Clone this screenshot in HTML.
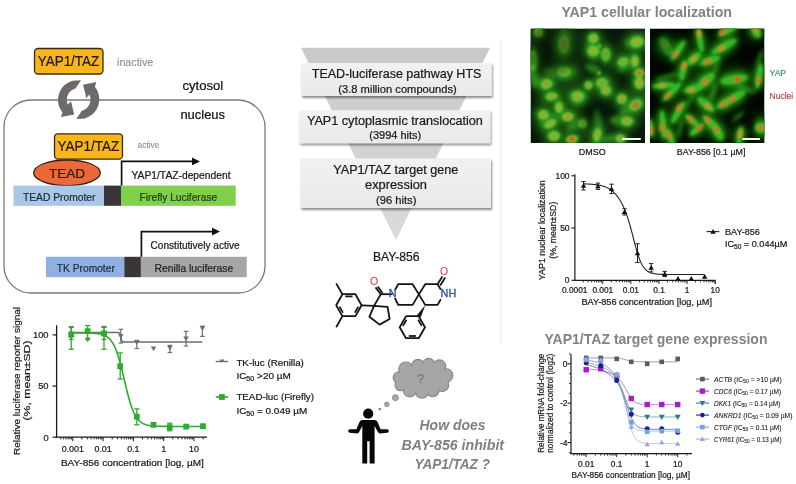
<!DOCTYPE html>
<html><head><meta charset="utf-8"><style>
html,body{margin:0;padding:0;background:#fff;}
body{width:796px;height:484px;overflow:hidden;}
svg{display:block;font-family:"Liberation Sans",sans-serif;filter:blur(0.3px);}
</style></head><body>
<svg width="796" height="484" viewBox="0 0 796 484">
<rect width="796" height="484" fill="#fff"/>
<rect x="4" y="100" width="261" height="193" rx="27" ry="27" fill="none" stroke="#7a7a7a" stroke-width="1.3"/>
<rect x="34.5" y="48.5" width="68.5" height="25.5" rx="3.5" fill="#f8b51c" stroke="#3b2a12" stroke-width="1.3"/>
<text x="68.5" y="66.2" font-size="13.8" text-anchor="middle" fill="#24180a" font-weight="normal" font-style="normal" textLength="61.6" lengthAdjust="spacingAndGlyphs" stroke="#24180a" stroke-width="0.22" >YAP1/TAZ</text>
<text x="117" y="65.5" font-size="10.7" text-anchor="start" fill="#8a8a8a" font-weight="normal" font-style="normal" textLength="36.3" lengthAdjust="spacingAndGlyphs" stroke="#8a8a8a" stroke-width="0.1" >inactive</text>
<text x="182.4" y="89.6" font-size="13" text-anchor="start" fill="#111" font-weight="normal" font-style="normal" textLength="40.8" lengthAdjust="spacingAndGlyphs" stroke="#111" stroke-width="0.22" >cytosol</text>
<text x="180.4" y="118.8" font-size="13" text-anchor="start" fill="#111" font-weight="normal" font-style="normal" textLength="44.6" lengthAdjust="spacingAndGlyphs" stroke="#111" stroke-width="0.22" >nucleus</text>
<path d="M72.4,80.7 L81,80.3 L75.5,88.5 A11.7,11.7 0 0 0 67.8,104.6 L71,101.2 L74.2,114.4 L61,117.1 L62.4,112.5 A20,20 0 0 1 72.4,80.7 Z" fill="#6e6a6b"/>
<path d="M72.4,80.7 L81,80.3 L75.5,88.5 A11.7,11.7 0 0 0 67.8,104.6 L71,101.2 L74.2,114.4 L61,117.1 L62.4,112.5 A20,20 0 0 1 72.4,80.7 Z" fill="#6e6a6b" transform="rotate(180 78.65 99.6)"/>
<rect x="54.5" y="133.8" width="68" height="25.3" rx="3.5" fill="#f8b51c" stroke="#3b2a12" stroke-width="1.3"/>
<text x="88.4" y="151.4" font-size="13.8" text-anchor="middle" fill="#24180a" font-weight="normal" font-style="normal" textLength="61.6" lengthAdjust="spacingAndGlyphs" stroke="#24180a" stroke-width="0.22" >YAP1/TAZ</text>
<text x="137.6" y="148.1" font-size="9" text-anchor="start" fill="#8a8a8a" font-weight="normal" font-style="normal" textLength="21.8" lengthAdjust="spacingAndGlyphs" stroke="#8a8a8a" stroke-width="0.1" >active</text>
<ellipse cx="67" cy="172.8" rx="33.3" ry="12.8" fill="#e9693a" stroke="#3b1e12" stroke-width="1.3"/>
<text x="67" y="177.8" font-size="13.5" text-anchor="middle" fill="#3a1408" font-weight="normal" font-style="normal" textLength="36" lengthAdjust="spacingAndGlyphs" stroke="#3a1408" stroke-width="0.22" >TEAD</text>
<rect x="13.5" y="185.6" width="90.5" height="20.2" fill="#a9c8e8"/>
<rect x="104" y="185.6" width="17.4" height="20.2" fill="#3a3638"/>
<rect x="121.4" y="185.6" width="114.3" height="20.2" fill="#7fd04a"/>
<text x="23.0" y="200.7" font-size="10.6" text-anchor="start" fill="#1c2a3c" font-weight="normal" font-style="normal" textLength="72.4" lengthAdjust="spacingAndGlyphs" stroke="#1c2a3c" stroke-width="0.22" >TEAD Promoter</text>
<text x="139.6" y="200.7" font-size="10.6" text-anchor="start" fill="#1e3a10" font-weight="normal" font-style="normal" textLength="77.6" lengthAdjust="spacingAndGlyphs" stroke="#1e3a10" stroke-width="0.22" >Firefly Luciferase</text>
<path d="M121.6,185.6 V161.4 H193" fill="none" stroke="#111" stroke-width="1.7"/>
<polygon points="192,157.6 200,161.4 192,165.2" fill="#111"/>
<text x="131.5" y="178.9" font-size="10.1" text-anchor="start" fill="#1a1a1a" font-weight="normal" font-style="normal" textLength="99" lengthAdjust="spacingAndGlyphs" stroke="#1a1a1a" stroke-width="0.22" >YAP1/TAZ-dependent</text>
<rect x="46" y="256.8" width="78.3" height="20.4" fill="#8fb0e0"/>
<rect x="124.3" y="256.8" width="16.6" height="20.4" fill="#3a3638"/>
<rect x="140.9" y="256.8" width="105.8" height="20.4" fill="#a6a6a6"/>
<text x="56.8" y="272.2" font-size="10.6" text-anchor="start" fill="#1c2a3c" font-weight="normal" font-style="normal" textLength="58" lengthAdjust="spacingAndGlyphs" stroke="#1c2a3c" stroke-width="0.22" >TK Promoter</text>
<text x="154.6" y="272.2" font-size="10.6" text-anchor="start" fill="#1e1e1e" font-weight="normal" font-style="normal" textLength="78.6" lengthAdjust="spacingAndGlyphs" stroke="#1e1e1e" stroke-width="0.22" >Renilla luciferase</text>
<path d="M141.4,256.8 V231.6 H213" fill="none" stroke="#111" stroke-width="1.7"/>
<polygon points="212,227.8 220,231.6 212,235.4" fill="#111"/>
<text x="150.6" y="248.6" font-size="10.1" text-anchor="start" fill="#1a1a1a" font-weight="normal" font-style="normal" textLength="89" lengthAdjust="spacingAndGlyphs" stroke="#1a1a1a" stroke-width="0.22" >Constitutively active</text>
<line x1="56.60" y1="325.20" x2="56.60" y2="437.80" stroke="#1a1a1a" stroke-width="1.3"/>
<line x1="56.00" y1="437.20" x2="207.00" y2="437.20" stroke="#1a1a1a" stroke-width="1.3"/>
<line x1="52.60" y1="437.20" x2="56.60" y2="437.20" stroke="#1a1a1a" stroke-width="1.2"/>
<line x1="52.60" y1="386.05" x2="56.60" y2="386.05" stroke="#1a1a1a" stroke-width="1.2"/>
<line x1="52.60" y1="334.90" x2="56.60" y2="334.90" stroke="#1a1a1a" stroke-width="1.2"/>
<line x1="60.74" y1="437.20" x2="60.74" y2="439.40" stroke="#1a1a1a" stroke-width="1"/>
<line x1="63.68" y1="437.20" x2="63.68" y2="439.40" stroke="#1a1a1a" stroke-width="1"/>
<line x1="66.08" y1="437.20" x2="66.08" y2="439.40" stroke="#1a1a1a" stroke-width="1"/>
<line x1="68.11" y1="437.20" x2="68.11" y2="439.40" stroke="#1a1a1a" stroke-width="1"/>
<line x1="69.86" y1="437.20" x2="69.86" y2="439.40" stroke="#1a1a1a" stroke-width="1"/>
<line x1="71.41" y1="437.20" x2="71.41" y2="439.40" stroke="#1a1a1a" stroke-width="1"/>
<line x1="72.80" y1="437.20" x2="72.80" y2="441.20" stroke="#1a1a1a" stroke-width="1"/>
<line x1="81.92" y1="437.20" x2="81.92" y2="439.40" stroke="#1a1a1a" stroke-width="1"/>
<line x1="87.26" y1="437.20" x2="87.26" y2="439.40" stroke="#1a1a1a" stroke-width="1"/>
<line x1="91.04" y1="437.20" x2="91.04" y2="439.40" stroke="#1a1a1a" stroke-width="1"/>
<line x1="93.98" y1="437.20" x2="93.98" y2="439.40" stroke="#1a1a1a" stroke-width="1"/>
<line x1="96.38" y1="437.20" x2="96.38" y2="439.40" stroke="#1a1a1a" stroke-width="1"/>
<line x1="98.41" y1="437.20" x2="98.41" y2="439.40" stroke="#1a1a1a" stroke-width="1"/>
<line x1="100.16" y1="437.20" x2="100.16" y2="439.40" stroke="#1a1a1a" stroke-width="1"/>
<line x1="101.71" y1="437.20" x2="101.71" y2="439.40" stroke="#1a1a1a" stroke-width="1"/>
<line x1="103.10" y1="437.20" x2="103.10" y2="441.20" stroke="#1a1a1a" stroke-width="1"/>
<line x1="112.22" y1="437.20" x2="112.22" y2="439.40" stroke="#1a1a1a" stroke-width="1"/>
<line x1="117.56" y1="437.20" x2="117.56" y2="439.40" stroke="#1a1a1a" stroke-width="1"/>
<line x1="121.34" y1="437.20" x2="121.34" y2="439.40" stroke="#1a1a1a" stroke-width="1"/>
<line x1="124.28" y1="437.20" x2="124.28" y2="439.40" stroke="#1a1a1a" stroke-width="1"/>
<line x1="126.68" y1="437.20" x2="126.68" y2="439.40" stroke="#1a1a1a" stroke-width="1"/>
<line x1="128.71" y1="437.20" x2="128.71" y2="439.40" stroke="#1a1a1a" stroke-width="1"/>
<line x1="130.46" y1="437.20" x2="130.46" y2="439.40" stroke="#1a1a1a" stroke-width="1"/>
<line x1="132.01" y1="437.20" x2="132.01" y2="439.40" stroke="#1a1a1a" stroke-width="1"/>
<line x1="133.40" y1="437.20" x2="133.40" y2="441.20" stroke="#1a1a1a" stroke-width="1"/>
<line x1="142.52" y1="437.20" x2="142.52" y2="439.40" stroke="#1a1a1a" stroke-width="1"/>
<line x1="147.86" y1="437.20" x2="147.86" y2="439.40" stroke="#1a1a1a" stroke-width="1"/>
<line x1="151.64" y1="437.20" x2="151.64" y2="439.40" stroke="#1a1a1a" stroke-width="1"/>
<line x1="154.58" y1="437.20" x2="154.58" y2="439.40" stroke="#1a1a1a" stroke-width="1"/>
<line x1="156.98" y1="437.20" x2="156.98" y2="439.40" stroke="#1a1a1a" stroke-width="1"/>
<line x1="159.01" y1="437.20" x2="159.01" y2="439.40" stroke="#1a1a1a" stroke-width="1"/>
<line x1="160.76" y1="437.20" x2="160.76" y2="439.40" stroke="#1a1a1a" stroke-width="1"/>
<line x1="162.31" y1="437.20" x2="162.31" y2="439.40" stroke="#1a1a1a" stroke-width="1"/>
<line x1="163.70" y1="437.20" x2="163.70" y2="441.20" stroke="#1a1a1a" stroke-width="1"/>
<line x1="172.82" y1="437.20" x2="172.82" y2="439.40" stroke="#1a1a1a" stroke-width="1"/>
<line x1="178.16" y1="437.20" x2="178.16" y2="439.40" stroke="#1a1a1a" stroke-width="1"/>
<line x1="181.94" y1="437.20" x2="181.94" y2="439.40" stroke="#1a1a1a" stroke-width="1"/>
<line x1="184.88" y1="437.20" x2="184.88" y2="439.40" stroke="#1a1a1a" stroke-width="1"/>
<line x1="187.28" y1="437.20" x2="187.28" y2="439.40" stroke="#1a1a1a" stroke-width="1"/>
<line x1="189.31" y1="437.20" x2="189.31" y2="439.40" stroke="#1a1a1a" stroke-width="1"/>
<line x1="191.06" y1="437.20" x2="191.06" y2="439.40" stroke="#1a1a1a" stroke-width="1"/>
<line x1="192.61" y1="437.20" x2="192.61" y2="439.40" stroke="#1a1a1a" stroke-width="1"/>
<line x1="194.00" y1="437.20" x2="194.00" y2="441.20" stroke="#1a1a1a" stroke-width="1"/>
<line x1="203.12" y1="437.20" x2="203.12" y2="439.40" stroke="#1a1a1a" stroke-width="1"/>
<text x="48.6" y="338.29999999999995" font-size="9.4" text-anchor="end" fill="#1a1a1a" font-weight="normal" font-style="normal" stroke="#1a1a1a" stroke-width="0.22" >100</text>
<text x="48.6" y="389.45" font-size="9.4" text-anchor="end" fill="#1a1a1a" font-weight="normal" font-style="normal" stroke="#1a1a1a" stroke-width="0.22" >50</text>
<text x="48.6" y="440.59999999999997" font-size="9.4" text-anchor="end" fill="#1a1a1a" font-weight="normal" font-style="normal" stroke="#1a1a1a" stroke-width="0.22" >0</text>
<text x="72.8" y="451.8" font-size="8.9" text-anchor="middle" fill="#1a1a1a" font-weight="normal" font-style="normal" stroke="#1a1a1a" stroke-width="0.22" >0.001</text>
<text x="103.1" y="451.8" font-size="8.9" text-anchor="middle" fill="#1a1a1a" font-weight="normal" font-style="normal" stroke="#1a1a1a" stroke-width="0.22" >0.01</text>
<text x="133.4" y="451.8" font-size="8.9" text-anchor="middle" fill="#1a1a1a" font-weight="normal" font-style="normal" stroke="#1a1a1a" stroke-width="0.22" >0.1</text>
<text x="163.7" y="451.8" font-size="8.9" text-anchor="middle" fill="#1a1a1a" font-weight="normal" font-style="normal" stroke="#1a1a1a" stroke-width="0.22" >1</text>
<text x="194.0" y="451.8" font-size="8.9" text-anchor="middle" fill="#1a1a1a" font-weight="normal" font-style="normal" stroke="#1a1a1a" stroke-width="0.22" >10</text>
<text x="132.4" y="466.1" font-size="9.6" text-anchor="middle" fill="#1a1a1a" font-weight="normal" font-style="normal" textLength="143" lengthAdjust="spacingAndGlyphs" stroke="#1a1a1a" stroke-width="0.22" >BAY-856 concentration [log, µM]</text>
<g transform="translate(19.5,381) rotate(-90)">
<text x="0" y="0" font-size="9.6" text-anchor="middle" fill="#1a1a1a" font-weight="normal" font-style="normal" textLength="148" lengthAdjust="spacingAndGlyphs" stroke="#1a1a1a" stroke-width="0.22" >Relative luciferase reporter signal</text>
<text x="0.5" y="10.4" font-size="9.6" text-anchor="middle" fill="#1a1a1a" font-weight="normal" font-style="normal" textLength="80" lengthAdjust="spacingAndGlyphs" stroke="#1a1a1a" stroke-width="0.22" >(%, mean±SD)</text>
</g>
<polyline points="71.28,332.44 71.72,332.44 72.16,332.44 72.60,332.44 73.03,332.44 73.47,332.44 73.91,332.44 74.34,332.44 74.78,332.44 75.22,332.44 75.65,332.44 76.09,332.44 76.53,332.44 76.96,332.44 77.40,332.44 77.84,332.44 78.27,332.44 78.71,332.44 79.15,332.44 79.58,332.44 80.02,332.44 80.46,332.44 80.89,332.44 81.33,332.44 81.77,332.44 82.20,332.44 82.64,332.44 83.08,332.44 83.51,332.44 83.95,332.44 84.39,332.44 84.82,332.44 85.26,332.44 85.70,332.44 86.13,332.44 86.57,332.44 87.01,332.44 87.44,332.44 87.88,332.44 88.32,332.44 88.75,332.44 89.19,332.44 89.63,332.44 90.06,332.44 90.50,332.44 90.94,332.44 91.38,332.44 91.81,332.44 92.25,332.44 92.69,332.44 93.12,332.44 93.56,332.44 94.00,332.44 94.43,332.44 94.87,332.44 95.31,332.44 95.74,332.44 96.18,332.44 96.62,332.44 97.05,332.44 97.49,332.44 97.93,332.44 98.36,332.44 98.80,332.44 99.24,332.44 99.67,332.44 100.11,332.44 100.55,332.44 100.98,332.44 101.42,332.44 101.86,332.44 102.29,332.44 102.73,332.44 103.17,332.44 103.60,332.44 104.04,332.44 104.48,332.44 104.91,332.44 105.35,332.44 105.79,332.44 106.22,332.44 106.66,332.44 107.10,332.44 107.53,332.44 107.97,332.44 108.41,332.44 108.84,332.44 109.28,332.44 109.72,332.44 110.15,332.44 110.59,332.44 111.03,332.44 111.47,332.44 111.90,332.44 112.34,332.44 112.78,332.44 113.21,332.44 113.65,332.44 114.09,332.44 114.52,332.44 114.96,332.44 115.40,332.45 115.83,332.45 116.27,332.45 116.71,332.45 117.14,332.45 117.58,332.46 118.02,332.49 118.45,332.55 118.89,332.68 119.33,332.96 119.76,333.55 120.20,334.64 120.64,336.34 121.07,338.30 121.51,339.96 121.95,341.02 122.38,341.58 122.82,341.84 123.26,341.96 123.69,342.02 124.13,342.04 124.57,342.05 125.00,342.06 125.44,342.06 125.88,342.06 126.31,342.06 126.75,342.06 127.19,342.06 127.62,342.06 128.06,342.06 128.50,342.06 128.93,342.06 129.37,342.06 129.81,342.06 130.24,342.06 130.68,342.06 131.12,342.06 131.56,342.06 131.99,342.06 132.43,342.06 132.87,342.06 133.30,342.06 133.74,342.06 134.18,342.06 134.61,342.06 135.05,342.06 135.49,342.06 135.92,342.06 136.36,342.06 136.80,342.06 137.23,342.06 137.67,342.06 138.11,342.06 138.54,342.06 138.98,342.06 139.42,342.06 139.85,342.06 140.29,342.06 140.73,342.06 141.16,342.06 141.60,342.06 142.04,342.06 142.47,342.06 142.91,342.06 143.35,342.06 143.78,342.06 144.22,342.06 144.66,342.06 145.09,342.06 145.53,342.06 145.97,342.06 146.40,342.06 146.84,342.06 147.28,342.06 147.71,342.06 148.15,342.06 148.59,342.06 149.02,342.06 149.46,342.06 149.90,342.06 150.33,342.06 150.77,342.06 151.21,342.06 151.65,342.06 152.08,342.06 152.52,342.06 152.96,342.06 153.39,342.06 153.83,342.06 154.27,342.06 154.70,342.06 155.14,342.06 155.58,342.06 156.01,342.06 156.45,342.06 156.89,342.06 157.32,342.06 157.76,342.06 158.20,342.06 158.63,342.06 159.07,342.06 159.51,342.06 159.94,342.06 160.38,342.06 160.82,342.06 161.25,342.06 161.69,342.06 162.13,342.06 162.56,342.06 163.00,342.06 163.44,342.06 163.87,342.06 164.31,342.06 164.75,342.06 165.18,342.06 165.62,342.06 166.06,342.06 166.49,342.06 166.93,342.06 167.37,342.06 167.80,342.06 168.24,342.06 168.68,342.06 169.11,342.06 169.55,342.06 169.99,342.06 170.42,342.06 170.86,342.06 171.30,342.06 171.74,342.06 172.17,342.06 172.61,342.06 173.05,342.06 173.48,342.06 173.92,342.06 174.36,342.06 174.79,342.06 175.23,342.06 175.67,342.06 176.10,342.06 176.54,342.06 176.98,342.06 177.41,342.06 177.85,342.06 178.29,342.06 178.72,342.06 179.16,342.06 179.60,342.06 180.03,342.06 180.47,342.06 180.91,342.06 181.34,342.06 181.78,342.06 182.22,342.06 182.65,342.06 183.09,342.06 183.53,342.06 183.96,342.06 184.40,342.06 184.84,342.06 185.27,342.06 185.71,342.06 186.15,342.06 186.58,342.06 187.02,342.06 187.46,342.06 187.89,342.06 188.33,342.06 188.77,342.06 189.20,342.06 189.64,342.06 190.08,342.06 190.52,342.06 190.95,342.06 191.39,342.06 191.83,342.06 192.26,342.06 192.70,342.06 193.14,342.06 193.57,342.06 194.01,342.06 194.45,342.06 194.88,342.06 195.32,342.06 195.76,342.06 196.19,342.06 196.63,342.06 197.07,342.06 197.50,342.06 197.94,342.06 198.38,342.06 198.81,342.06 199.25,342.06 199.69,342.06 200.12,342.06 200.56,342.06 201.00,342.06 201.43,342.06 201.87,342.06 202.31,342.06" fill="none" stroke="#6e6e6e" stroke-width="1.5"/>
<line x1="71.20" y1="327.50" x2="71.20" y2="339.50" stroke="#6e6e6e" stroke-width="1.2"/>
<line x1="68.90" y1="327.50" x2="73.50" y2="327.50" stroke="#6e6e6e" stroke-width="1.2"/>
<line x1="68.90" y1="339.50" x2="73.50" y2="339.50" stroke="#6e6e6e" stroke-width="1.2"/>
<polygon points="68.50,331.40 73.90,331.40 71.20,336.20" fill="#6e6e6e"/>
<polygon points="85.00,337.50 90.40,337.50 87.70,342.30" fill="#6e6e6e"/>
<line x1="104.00" y1="326.40" x2="104.00" y2="339.60" stroke="#6e6e6e" stroke-width="1.2"/>
<line x1="101.70" y1="326.40" x2="106.30" y2="326.40" stroke="#6e6e6e" stroke-width="1.2"/>
<line x1="101.70" y1="339.60" x2="106.30" y2="339.60" stroke="#6e6e6e" stroke-width="1.2"/>
<polygon points="101.30,330.90 106.70,330.90 104.00,335.70" fill="#6e6e6e"/>
<line x1="120.80" y1="329.30" x2="120.80" y2="343.00" stroke="#6e6e6e" stroke-width="1.2"/>
<line x1="118.50" y1="329.30" x2="123.10" y2="329.30" stroke="#6e6e6e" stroke-width="1.2"/>
<line x1="118.50" y1="343.00" x2="123.10" y2="343.00" stroke="#6e6e6e" stroke-width="1.2"/>
<polygon points="118.10,334.00 123.50,334.00 120.80,338.80" fill="#6e6e6e"/>
<line x1="136.80" y1="340.40" x2="136.80" y2="348.50" stroke="#6e6e6e" stroke-width="1.2"/>
<line x1="134.50" y1="340.40" x2="139.10" y2="340.40" stroke="#6e6e6e" stroke-width="1.2"/>
<line x1="134.50" y1="348.50" x2="139.10" y2="348.50" stroke="#6e6e6e" stroke-width="1.2"/>
<polygon points="134.10,340.20 139.50,340.20 136.80,345.00" fill="#6e6e6e"/>
<polygon points="150.80,346.40 156.20,346.40 153.50,351.20" fill="#6e6e6e"/>
<line x1="169.90" y1="345.40" x2="169.90" y2="352.50" stroke="#6e6e6e" stroke-width="1.2"/>
<line x1="167.60" y1="345.40" x2="172.20" y2="345.40" stroke="#6e6e6e" stroke-width="1.2"/>
<line x1="167.60" y1="352.50" x2="172.20" y2="352.50" stroke="#6e6e6e" stroke-width="1.2"/>
<polygon points="167.20,345.80 172.60,345.80 169.90,350.60" fill="#6e6e6e"/>
<line x1="186.00" y1="331.40" x2="186.00" y2="346.00" stroke="#6e6e6e" stroke-width="1.2"/>
<line x1="183.70" y1="331.40" x2="188.30" y2="331.40" stroke="#6e6e6e" stroke-width="1.2"/>
<line x1="183.70" y1="346.00" x2="188.30" y2="346.00" stroke="#6e6e6e" stroke-width="1.2"/>
<polygon points="183.30,336.50 188.70,336.50 186.00,341.30" fill="#6e6e6e"/>
<line x1="202.40" y1="326.20" x2="202.40" y2="336.40" stroke="#6e6e6e" stroke-width="1.2"/>
<line x1="200.10" y1="326.20" x2="204.70" y2="326.20" stroke="#6e6e6e" stroke-width="1.2"/>
<line x1="200.10" y1="336.40" x2="204.70" y2="336.40" stroke="#6e6e6e" stroke-width="1.2"/>
<polygon points="199.70,326.10 205.10,326.10 202.40,330.90" fill="#6e6e6e"/>
<polyline points="70.38,332.96 71.04,332.96 71.70,332.96 72.35,332.96 73.01,332.96 73.67,332.97 74.33,332.97 74.99,332.97 75.65,332.97 76.31,332.97 76.97,332.97 77.63,332.98 78.29,332.98 78.95,332.98 79.61,332.98 80.27,332.99 80.93,332.99 81.59,333.00 82.25,333.00 82.91,333.01 83.57,333.01 84.23,333.02 84.89,333.03 85.55,333.04 86.21,333.05 86.87,333.06 87.53,333.07 88.19,333.09 88.85,333.10 89.51,333.12 90.17,333.14 90.83,333.17 91.48,333.19 92.14,333.22 92.80,333.26 93.46,333.29 94.12,333.34 94.78,333.39 95.44,333.44 96.10,333.50 96.76,333.57 97.42,333.65 98.08,333.74 98.74,333.84 99.40,333.95 100.06,334.07 100.72,334.21 101.38,334.37 102.04,334.55 102.70,334.75 103.36,334.97 104.02,335.22 104.68,335.50 105.34,335.82 106.00,336.17 106.66,336.57 107.32,337.01 107.98,337.50 108.64,338.05 109.30,338.67 109.96,339.35 110.61,340.10 111.27,340.94 111.93,341.86 112.59,342.88 113.25,344.00 113.91,345.22 114.57,346.56 115.23,348.02 115.89,349.60 116.55,351.32 117.21,353.16 117.87,355.13 118.53,357.22 119.19,359.45 119.85,361.79 120.51,364.24 121.17,366.80 121.83,369.43 122.49,372.14 123.15,374.91 123.81,377.70 124.47,380.51 125.13,383.32 125.79,386.10 126.45,388.83 127.11,391.50 127.77,394.09 128.43,396.59 129.09,398.98 129.74,401.26 130.40,403.41 131.06,405.43 131.72,407.33 132.38,409.09 133.04,410.73 133.70,412.24 134.36,413.63 135.02,414.91 135.68,416.07 136.34,417.13 137.00,418.09 137.66,418.97 138.32,419.75 138.98,420.47 139.64,421.11 140.30,421.68 140.96,422.20 141.62,422.66 142.28,423.08 142.94,423.45 143.60,423.78 144.26,424.08 144.92,424.34 145.58,424.57 146.24,424.78 146.90,424.97 147.56,425.14 148.22,425.29 148.87,425.42 149.53,425.53 150.19,425.64 150.85,425.73 151.51,425.81 152.17,425.88 152.83,425.95 153.49,426.01 154.15,426.06 154.81,426.10 155.47,426.14 156.13,426.18 156.79,426.21 157.45,426.24 158.11,426.26 158.77,426.29 159.43,426.31 160.09,426.32 160.75,426.34 161.41,426.35 162.07,426.36 162.73,426.37 163.39,426.38 164.05,426.39 164.71,426.40 165.37,426.41 166.03,426.41 166.69,426.42 167.35,426.42 168.00,426.43 168.66,426.43 169.32,426.43 169.98,426.44 170.64,426.44 171.30,426.44 171.96,426.44 172.62,426.44 173.28,426.45 173.94,426.45 174.60,426.45 175.26,426.45 175.92,426.45 176.58,426.45 177.24,426.45 177.90,426.45 178.56,426.45 179.22,426.45 179.88,426.45 180.54,426.46 181.20,426.46 181.86,426.46 182.52,426.46 183.18,426.46 183.84,426.46 184.50,426.46 185.16,426.46 185.82,426.46 186.48,426.46 187.13,426.46 187.79,426.46 188.45,426.46 189.11,426.46 189.77,426.46 190.43,426.46 191.09,426.46 191.75,426.46 192.41,426.46 193.07,426.46 193.73,426.46 194.39,426.46 195.05,426.46 195.71,426.46 196.37,426.46 197.03,426.46 197.69,426.46 198.35,426.46 199.01,426.46 199.67,426.46 200.33,426.46 200.99,426.46 201.65,426.46 202.31,426.46" fill="none" stroke="#2eaa2e" stroke-width="1.6"/>
<line x1="71.20" y1="326.60" x2="71.20" y2="349.20" stroke="#2eaa2e" stroke-width="1.3"/>
<line x1="68.60" y1="326.60" x2="73.80" y2="326.60" stroke="#2eaa2e" stroke-width="1.3"/>
<line x1="68.60" y1="349.20" x2="73.80" y2="349.20" stroke="#2eaa2e" stroke-width="1.3"/>
<rect x="68.30" y="331.90" width="5.8" height="5.8" fill="#2eaa2e"/>
<line x1="87.70" y1="325.60" x2="87.70" y2="339.50" stroke="#2eaa2e" stroke-width="1.3"/>
<line x1="85.10" y1="325.60" x2="90.30" y2="325.60" stroke="#2eaa2e" stroke-width="1.3"/>
<line x1="85.10" y1="339.50" x2="90.30" y2="339.50" stroke="#2eaa2e" stroke-width="1.3"/>
<rect x="84.80" y="328.30" width="5.8" height="5.8" fill="#2eaa2e"/>
<line x1="104.00" y1="327.40" x2="104.00" y2="349.20" stroke="#2eaa2e" stroke-width="1.3"/>
<line x1="101.40" y1="327.40" x2="106.60" y2="327.40" stroke="#2eaa2e" stroke-width="1.3"/>
<line x1="101.40" y1="349.20" x2="106.60" y2="349.20" stroke="#2eaa2e" stroke-width="1.3"/>
<rect x="101.10" y="330.50" width="5.8" height="5.8" fill="#2eaa2e"/>
<line x1="120.20" y1="352.90" x2="120.20" y2="379.00" stroke="#2eaa2e" stroke-width="1.3"/>
<line x1="117.60" y1="352.90" x2="122.80" y2="352.90" stroke="#2eaa2e" stroke-width="1.3"/>
<line x1="117.60" y1="379.00" x2="122.80" y2="379.00" stroke="#2eaa2e" stroke-width="1.3"/>
<rect x="117.30" y="363.30" width="5.8" height="5.8" fill="#2eaa2e"/>
<line x1="136.80" y1="408.90" x2="136.80" y2="424.80" stroke="#2eaa2e" stroke-width="1.3"/>
<line x1="134.20" y1="408.90" x2="139.40" y2="408.90" stroke="#2eaa2e" stroke-width="1.3"/>
<line x1="134.20" y1="424.80" x2="139.40" y2="424.80" stroke="#2eaa2e" stroke-width="1.3"/>
<rect x="133.90" y="413.80" width="5.8" height="5.8" fill="#2eaa2e"/>
<rect x="150.60" y="421.90" width="5.8" height="5.8" fill="#2eaa2e"/>
<line x1="169.70" y1="423.20" x2="169.70" y2="430.80" stroke="#2eaa2e" stroke-width="1.3"/>
<line x1="167.10" y1="423.20" x2="172.30" y2="423.20" stroke="#2eaa2e" stroke-width="1.3"/>
<line x1="167.10" y1="430.80" x2="172.30" y2="430.80" stroke="#2eaa2e" stroke-width="1.3"/>
<rect x="166.80" y="424.20" width="5.8" height="5.8" fill="#2eaa2e"/>
<rect x="183.30" y="423.70" width="5.8" height="5.8" fill="#2eaa2e"/>
<rect x="200.10" y="423.30" width="5.8" height="5.8" fill="#2eaa2e"/>
<line x1="215.70" y1="361.50" x2="228.10" y2="361.50" stroke="#6e6e6e" stroke-width="1.4"/>
<polygon points="219.3,359.6 224.5,359.6 221.9,362.8" fill="#6e6e6e"/>
<text x="236.4" y="365.6" font-size="9.8" text-anchor="start" fill="#1a1a1a" font-weight="normal" font-style="normal" textLength="67.5" lengthAdjust="spacingAndGlyphs" stroke="#1a1a1a" stroke-width="0.22" >TK-luc (Renilla)</text>
<text x="236.4" y="379" font-size="9.8" text-anchor="start" fill="#1a1a1a" font-weight="normal" font-style="normal" textLength="54.4" lengthAdjust="spacingAndGlyphs" stroke="#1a1a1a" stroke-width="0.22" >IC<tspan font-size="7" dy="2">50</tspan><tspan dy="-2"> &gt;20 µM</tspan></text>
<line x1="215.70" y1="397.00" x2="228.10" y2="397.00" stroke="#2eaa2e" stroke-width="1.6"/>
<rect x="219" y="394.1" width="5.8" height="5.8" fill="#2eaa2e"/>
<text x="236.4" y="400.4" font-size="9.8" text-anchor="start" fill="#1a1a1a" font-weight="normal" font-style="normal" textLength="77.6" lengthAdjust="spacingAndGlyphs" stroke="#1a1a1a" stroke-width="0.22" >TEAD-luc (Firefly)</text>
<text x="236.4" y="413.6" font-size="9.8" text-anchor="start" fill="#1a1a1a" font-weight="normal" font-style="normal" textLength="70.8" lengthAdjust="spacingAndGlyphs" stroke="#1a1a1a" stroke-width="0.22" >IC<tspan font-size="7" dy="2">50</tspan><tspan dy="-2"> = 0.049 µM</tspan></text>
<defs><linearGradient id="fg" x1="0" y1="0" x2="0" y2="1"><stop offset="0" stop-color="#c9c9c9"/><stop offset="1" stop-color="#dadada"/></linearGradient><linearGradient id="bg" x1="0" y1="0" x2="0" y2="1"><stop offset="0" stop-color="#f2f2f2"/><stop offset="1" stop-color="#e9e9e9"/></linearGradient><filter id="sh" x="-5%" y="-10%" width="110%" height="140%"><feGaussianBlur in="SourceAlpha" stdDeviation="1.2"/><feOffset dx="0.5" dy="1.8"/><feComponentTransfer><feFuncA type="linear" slope="0.45"/></feComponentTransfer><feMerge><feMergeNode/><feMergeNode in="SourceGraphic"/></feMerge></filter></defs>
<polygon points="301,47.8 490,47.8 396,240" fill="url(#fg)"/>
<rect x="301.2" y="63" width="190.5" height="33" fill="url(#bg)" filter="url(#sh)"/>
<rect x="299.3" y="110.2" width="191" height="33" fill="url(#bg)" filter="url(#sh)"/>
<rect x="300.4" y="158.4" width="190.6" height="49.6" fill="url(#bg)" filter="url(#sh)"/>
<text x="396.6" y="78" font-size="12.4" text-anchor="middle" fill="#1a1a1a" font-weight="normal" font-style="normal" textLength="169.6" lengthAdjust="spacingAndGlyphs" stroke="#1a1a1a" stroke-width="0.22" >TEAD-luciferase pathway HTS</text>
<text x="397.5" y="92.7" font-size="10.3" text-anchor="middle" fill="#1a1a1a" font-weight="normal" font-style="normal" textLength="118.4" lengthAdjust="spacingAndGlyphs" stroke="#1a1a1a" stroke-width="0.22" >(3.8 million compounds)</text>
<text x="394.9" y="125.4" font-size="12.4" text-anchor="middle" fill="#1a1a1a" font-weight="normal" font-style="normal" textLength="176" lengthAdjust="spacingAndGlyphs" stroke="#1a1a1a" stroke-width="0.22" >YAP1 cytoplasmic translocation</text>
<text x="395.3" y="139.3" font-size="10.3" text-anchor="middle" fill="#1a1a1a" font-weight="normal" font-style="normal" textLength="52" lengthAdjust="spacingAndGlyphs" stroke="#1a1a1a" stroke-width="0.22" >(3994 hits)</text>
<text x="395.8" y="174.1" font-size="12.4" text-anchor="middle" fill="#1a1a1a" font-weight="normal" font-style="normal" textLength="125" lengthAdjust="spacingAndGlyphs" stroke="#1a1a1a" stroke-width="0.22" >YAP1/TAZ target gene</text>
<text x="396" y="188.6" font-size="12.4" text-anchor="middle" fill="#1a1a1a" font-weight="normal" font-style="normal" textLength="62" lengthAdjust="spacingAndGlyphs" stroke="#1a1a1a" stroke-width="0.22" >expression</text>
<text x="396.2" y="203.6" font-size="10.3" text-anchor="middle" fill="#1a1a1a" font-weight="normal" font-style="normal" textLength="40.6" lengthAdjust="spacingAndGlyphs" stroke="#1a1a1a" stroke-width="0.22" >(96 hits)</text>
<text x="396.2" y="261.2" font-size="12.6" text-anchor="middle" fill="#1a1a1a" font-weight="normal" font-style="normal" textLength="46.6" lengthAdjust="spacingAndGlyphs" stroke="#1a1a1a" stroke-width="0.22" >BAY-856</text>
<path d="M342.40,294.20 L355.40,294.20 L361.60,305.30 L355.40,316.10 L342.40,316.10 L336.20,305.30 L342.40,294.20" fill="none" stroke="#141414" stroke-width="1.8" stroke-linejoin="round"/>
<path d="M345.28,296.40 L352.56,296.40" fill="none" stroke="#141414" stroke-width="1.8" stroke-linejoin="round"/>
<path d="M358.34,306.58 L354.86,312.62" fill="none" stroke="#141414" stroke-width="1.8" stroke-linejoin="round"/>
<path d="M342.98,312.62 L339.50,306.58" fill="none" stroke="#141414" stroke-width="1.8" stroke-linejoin="round"/>
<path d="M342.40,294.20 L336.20,283.40" fill="none" stroke="#141414" stroke-width="1.8" stroke-linejoin="round"/>
<path d="M342.40,316.10 L336.20,327.20" fill="none" stroke="#141414" stroke-width="1.8" stroke-linejoin="round"/>
<path d="M361.60,305.30 L374.00,305.90" fill="none" stroke="#141414" stroke-width="1.8" stroke-linejoin="round"/>
<path d="M374.00,305.90 L380.80,294.20" fill="none" stroke="#141414" stroke-width="1.8" stroke-linejoin="round"/>
<path d="M380.80,294.20 L392.40,294.20" fill="none" stroke="#141414" stroke-width="1.8" stroke-linejoin="round"/>
<path d="M380.80,294.20 L375.60,287.40" fill="none" stroke="#141414" stroke-width="1.8" stroke-linejoin="round"/>
<path d="M382.60,293.20 L377.80,286.40" fill="none" stroke="#141414" stroke-width="1.8" stroke-linejoin="round"/>
<text x="374.2" y="285.4" font-size="10.5" text-anchor="middle" fill="#c03a3a">O</text>
<path d="M374.00,305.90 L387.60,306.80 L389.60,319.00 L379.60,324.60 L369.40,316.80 L374.00,305.90" fill="none" stroke="#141414" stroke-width="1.8" stroke-linejoin="round"/>
<path d="M394.80,290.40 L398.20,284.20 L412.60,284.20 L418.90,294.40 L412.60,304.90 L398.20,304.90 L394.80,298.00" fill="none" stroke="#141414" stroke-width="1.8" stroke-linejoin="round"/>
<text x="392.6" y="297.4" font-size="10.8" text-anchor="middle" fill="#2c4f9e" stroke="#2c4f9e" stroke-width="0.3">N</text>
<path d="M418.90,294.40 L425.20,284.20 L437.60,284.20 L440.80,289.60" fill="none" stroke="#141414" stroke-width="1.8" stroke-linejoin="round"/>
<path d="M440.80,299.20 L437.60,304.90 L425.20,304.90 L418.90,294.40" fill="none" stroke="#141414" stroke-width="1.8" stroke-linejoin="round"/>
<path d="M437.60,284.20 L442.40,276.40" fill="none" stroke="#141414" stroke-width="1.8" stroke-linejoin="round"/>
<path d="M440.20,285.40 L445.20,277.60" fill="none" stroke="#141414" stroke-width="1.8" stroke-linejoin="round"/>
<text x="444.2" y="274.6" font-size="10.5" text-anchor="middle" fill="#c03a3a">O</text>
<text x="448.4" y="296.9" font-size="10.8" text-anchor="middle" fill="#2c4f9e" stroke="#2c4f9e" stroke-width="0.3">NH</text>
<polygon points="425.4,304.9 416.6,315.4 420.8,317.2" fill="#141414"/>
<path d="M406.00,316.20 L418.70,316.20 L425.00,327.20 L418.70,338.20 L406.00,338.20 L399.70,327.20 L406.00,316.20" fill="none" stroke="#141414" stroke-width="1.8" stroke-linejoin="round"/>
<path d="M403.00,325.88 L406.52,319.72" fill="none" stroke="#141414" stroke-width="1.8" stroke-linejoin="round"/>
<path d="M418.20,319.72 L421.72,325.88" fill="none" stroke="#141414" stroke-width="1.8" stroke-linejoin="round"/>
<path d="M415.92,336.00 L408.80,336.00" fill="none" stroke="#141414" stroke-width="1.8" stroke-linejoin="round"/>
<circle cx="368.2" cy="413.7" r="5.1" fill="#050505"/>
<path d="M362.5,420 H374.5 Q376.5,420 377.4,421.8 L380.6,429.2 H387.2 Q388.8,429.2 388.8,431 Q388.8,432.7 387.2,432.7 L379.9,433.4 Q378.6,433.5 378,432.3 L374.6,425.9 V463.6 H369.6 V441.2 H367.2 V463.6 H362.3 V425.9 L359,432.3 Q358.4,433.5 357.1,433.4 L349.8,432.7 Q348.2,432.7 348.2,431 Q348.2,429.2 349.8,429.2 H356.4 L359.6,421.8 Q360.5,420 362.5,420 Z" fill="#050505"/>
<circle cx="379.7" cy="409.1" r="1.4" fill="#8a8a8a"/>
<circle cx="386.8" cy="404.4" r="2.3" fill="#a6a6a6" stroke="#858585" stroke-width="0.8"/>
<circle cx="395.4" cy="397.7" r="3" fill="#a6a6a6" stroke="#858585" stroke-width="0.8"/>
<g fill="#a6a6a6" stroke="#858585" stroke-width="1.1">
<circle cx="398.8" cy="377.5" r="5.6"/>
<circle cx="405.9" cy="369.2" r="7.2"/>
<circle cx="418" cy="365.6" r="6.2"/>
<circle cx="428.7" cy="364.4" r="6"/>
<circle cx="439.3" cy="366.4" r="6.5"/>
<circle cx="446" cy="375.5" r="6.8"/>
<circle cx="442.1" cy="384.9" r="6.6"/>
<circle cx="432.7" cy="390.3" r="6.3"/>
<circle cx="422" cy="391.6" r="6.6"/>
<circle cx="409.9" cy="390.3" r="6.6"/>
<circle cx="400.8" cy="384.9" r="5.8"/>
</g>
<g fill="#a6a6a6">
<circle cx="398.8" cy="377.5" r="4.8"/>
<circle cx="405.9" cy="369.2" r="6.4"/>
<circle cx="418" cy="365.6" r="5.4"/>
<circle cx="428.7" cy="364.4" r="5.2"/>
<circle cx="439.3" cy="366.4" r="5.7"/>
<circle cx="446" cy="375.5" r="6.0"/>
<circle cx="442.1" cy="384.9" r="5.8"/>
<circle cx="432.7" cy="390.3" r="5.5"/>
<circle cx="422" cy="391.6" r="5.8"/>
<circle cx="409.9" cy="390.3" r="5.8"/>
<circle cx="400.8" cy="384.9" r="5.0"/>
<ellipse cx="422" cy="378" rx="23.5" ry="12.8"/>
</g>
<text x="420.7" y="382.8" font-size="13" text-anchor="middle" fill="#7a7a7a" font-weight="normal" font-style="normal" stroke="#7a7a7a" stroke-width="0.22" >?</text>
<text x="452.5" y="430.4" font-size="15.4" text-anchor="middle" fill="#7f7f7f" font-weight="bold" font-style="italic" textLength="66" lengthAdjust="spacingAndGlyphs" >How does</text>
<text x="452.8" y="449.9" font-size="15.4" text-anchor="middle" fill="#7f7f7f" font-weight="bold" font-style="italic" textLength="102.6" lengthAdjust="spacingAndGlyphs" >BAY-856 inhibit</text>
<text x="452.2" y="468.7" font-size="15.4" text-anchor="middle" fill="#7f7f7f" font-weight="bold" font-style="italic" textLength="75.5" lengthAdjust="spacingAndGlyphs" >YAP1/TAZ ?</text>
<line x1="500.80" y1="40.00" x2="500.80" y2="344.00" stroke="#efefef" stroke-width="1"/>
<text x="646.7" y="16.7" font-size="14.8" text-anchor="middle" fill="#828282" font-weight="bold" font-style="normal" textLength="170.6" lengthAdjust="spacingAndGlyphs" >YAP1 cellular localization</text>
<defs><clipPath id="c1"><rect x="530.5" y="28.5" width="114.5" height="114.5"/></clipPath><clipPath id="c2"><rect x="650" y="28.5" width="114.5" height="114.5"/></clipPath><filter id="bl4" x="-50%" y="-50%" width="200%" height="200%"><feGaussianBlur stdDeviation="4"/></filter><filter id="bl" x="-50%" y="-50%" width="200%" height="200%"><feGaussianBlur stdDeviation="2"/></filter><filter id="bl2" x="-50%" y="-50%" width="200%" height="200%"><feGaussianBlur stdDeviation="1"/></filter></defs>
<g clip-path="url(#c1)">
<rect x="530.5" y="28.5" width="114.5" height="114.5" fill="#06160a"/>
<g filter="url(#bl4)">
<ellipse cx="563.9" cy="44.5" rx="14.1" ry="23.0" transform="rotate(0 563.9 44.5)" fill="#1a5a10" opacity="0.75"/>
<ellipse cx="563.9" cy="71.8" rx="19.0" ry="13.6" transform="rotate(0 563.9 71.8)" fill="#1a5a10" opacity="0.75"/>
<ellipse cx="546.6" cy="84.0" rx="14.4" ry="12.0" transform="rotate(-20 546.6 84.0)" fill="#1a5a10" opacity="0.75"/>
<ellipse cx="533.0" cy="60.5" rx="9.0" ry="22.4" transform="rotate(0 533.0 60.5)" fill="#1a5a10" opacity="0.75"/>
<ellipse cx="593.4" cy="38.4" rx="11.2" ry="11.2" transform="rotate(0 593.4 38.4)" fill="#1a5a10" opacity="0.75"/>
<ellipse cx="593.4" cy="50.8" rx="13.4" ry="12.3" transform="rotate(0 593.4 50.8)" fill="#1a5a10" opacity="0.75"/>
<ellipse cx="605.8" cy="54.5" rx="10.1" ry="14.6" transform="rotate(0 605.8 54.5)" fill="#1a5a10" opacity="0.75"/>
<ellipse cx="599.6" cy="45.8" rx="2.6" ry="2.6" transform="rotate(0 599.6 45.8)" fill="#1a5a10" opacity="0.75"/>
<ellipse cx="636.8" cy="42.1" rx="16.8" ry="13.2" transform="rotate(-10 636.8 42.1)" fill="#1a5a10" opacity="0.75"/>
<ellipse cx="623.2" cy="61.9" rx="13.2" ry="10.8" transform="rotate(-20 623.2 61.9)" fill="#1a5a10" opacity="0.75"/>
<ellipse cx="634.9" cy="61.3" rx="9.6" ry="14.4" transform="rotate(0 634.9 61.3)" fill="#1a5a10" opacity="0.75"/>
<ellipse cx="639.3" cy="73.1" rx="11.2" ry="10.1" transform="rotate(0 639.3 73.1)" fill="#1a5a10" opacity="0.75"/>
<ellipse cx="599.0" cy="73.1" rx="2.9" ry="2.9" transform="rotate(0 599.0 73.1)" fill="#1a5a10" opacity="0.75"/>
<ellipse cx="602.1" cy="83.0" rx="14.4" ry="12.0" transform="rotate(0 602.1 83.0)" fill="#1a5a10" opacity="0.75"/>
<ellipse cx="639.3" cy="83.0" rx="11.2" ry="13.4" transform="rotate(0 639.3 83.0)" fill="#1a5a10" opacity="0.75"/>
<ellipse cx="551.5" cy="96.4" rx="14.4" ry="9.6" transform="rotate(-10 551.5 96.4)" fill="#1a5a10" opacity="0.75"/>
<ellipse cx="577.6" cy="96.4" rx="15.6" ry="13.2" transform="rotate(0 577.6 96.4)" fill="#1a5a10" opacity="0.75"/>
<ellipse cx="559.0" cy="107.5" rx="9.6" ry="13.2" transform="rotate(0 559.0 107.5)" fill="#1a5a10" opacity="0.75"/>
<ellipse cx="567.7" cy="116.8" rx="15.4" ry="11.5" transform="rotate(0 567.7 116.8)" fill="#1a5a10" opacity="0.75"/>
<ellipse cx="543.5" cy="115.0" rx="13.2" ry="12.0" transform="rotate(0 543.5 115.0)" fill="#1a5a10" opacity="0.75"/>
<ellipse cx="550.3" cy="123.7" rx="15.6" ry="9.6" transform="rotate(-30 550.3 123.7)" fill="#1a5a10" opacity="0.75"/>
<ellipse cx="554.0" cy="136.0" rx="13.4" ry="11.2" transform="rotate(0 554.0 136.0)" fill="#1a5a10" opacity="0.75"/>
<ellipse cx="572.0" cy="139.1" rx="13.4" ry="9.0" transform="rotate(-10 572.0 139.1)" fill="#1a5a10" opacity="0.75"/>
<ellipse cx="605.8" cy="90.2" rx="11.2" ry="11.2" transform="rotate(0 605.8 90.2)" fill="#1a5a10" opacity="0.75"/>
<ellipse cx="621.9" cy="98.9" rx="11.2" ry="11.2" transform="rotate(0 621.9 98.9)" fill="#1a5a10" opacity="0.75"/>
<ellipse cx="635.6" cy="105.1" rx="17.9" ry="12.8" transform="rotate(-35 635.6 105.1)" fill="#1a5a10" opacity="0.75"/>
<ellipse cx="626.9" cy="121.2" rx="14.4" ry="10.8" transform="rotate(0 626.9 121.2)" fill="#1a5a10" opacity="0.75"/>
<ellipse cx="597.2" cy="134.8" rx="10.2" ry="17.9" transform="rotate(10 597.2 134.8)" fill="#1a5a10" opacity="0.75"/>
<ellipse cx="588.5" cy="85.2" rx="8.3" ry="8.3" transform="rotate(0 588.5 85.2)" fill="#1a5a10" opacity="0.75"/>
<ellipse cx="538.5" cy="32.5" rx="9.6" ry="9.6" transform="rotate(0 538.5 32.5)" fill="#1a5a10" opacity="0.75"/>
<ellipse cx="620.5" cy="138.5" rx="11.2" ry="9.0" transform="rotate(0 620.5 138.5)" fill="#1a5a10" opacity="0.75"/>
<ellipse cx="582.5" cy="123.5" rx="9.0" ry="9.0" transform="rotate(0 582.5 123.5)" fill="#1a5a10" opacity="0.75"/>
</g><g filter="url(#bl)">
<ellipse cx="563.9" cy="44.5" rx="8.8" ry="14.4" transform="rotate(0 563.9 44.5)" fill="#2a8a18" opacity="0.85"/>
<ellipse cx="563.9" cy="71.8" rx="11.9" ry="8.5" transform="rotate(0 563.9 71.8)" fill="#2a8a18" opacity="0.85"/>
<ellipse cx="546.6" cy="84.0" rx="9.0" ry="7.5" transform="rotate(-20 546.6 84.0)" fill="#2a8a18" opacity="0.85"/>
<ellipse cx="533.0" cy="60.5" rx="5.6" ry="14.0" transform="rotate(0 533.0 60.5)" fill="#2a8a18" opacity="0.85"/>
<ellipse cx="593.4" cy="38.4" rx="7.0" ry="7.0" transform="rotate(0 593.4 38.4)" fill="#2a8a18" opacity="0.85"/>
<ellipse cx="593.4" cy="50.8" rx="8.4" ry="7.7" transform="rotate(0 593.4 50.8)" fill="#2a8a18" opacity="0.85"/>
<ellipse cx="605.8" cy="54.5" rx="6.3" ry="9.1" transform="rotate(0 605.8 54.5)" fill="#2a8a18" opacity="0.85"/>
<ellipse cx="599.6" cy="45.8" rx="1.6" ry="1.6" transform="rotate(0 599.6 45.8)" fill="#2a8a18" opacity="0.85"/>
<ellipse cx="636.8" cy="42.1" rx="10.5" ry="8.2" transform="rotate(-10 636.8 42.1)" fill="#2a8a18" opacity="0.85"/>
<ellipse cx="623.2" cy="61.9" rx="8.2" ry="6.8" transform="rotate(-20 623.2 61.9)" fill="#2a8a18" opacity="0.85"/>
<ellipse cx="634.9" cy="61.3" rx="6.0" ry="9.0" transform="rotate(0 634.9 61.3)" fill="#2a8a18" opacity="0.85"/>
<ellipse cx="639.3" cy="73.1" rx="7.0" ry="6.3" transform="rotate(0 639.3 73.1)" fill="#2a8a18" opacity="0.85"/>
<ellipse cx="599.0" cy="73.1" rx="1.8" ry="1.8" transform="rotate(0 599.0 73.1)" fill="#2a8a18" opacity="0.85"/>
<ellipse cx="602.1" cy="83.0" rx="9.0" ry="7.5" transform="rotate(0 602.1 83.0)" fill="#2a8a18" opacity="0.85"/>
<ellipse cx="639.3" cy="83.0" rx="7.0" ry="8.4" transform="rotate(0 639.3 83.0)" fill="#2a8a18" opacity="0.85"/>
<ellipse cx="551.5" cy="96.4" rx="9.0" ry="6.0" transform="rotate(-10 551.5 96.4)" fill="#2a8a18" opacity="0.85"/>
<ellipse cx="577.6" cy="96.4" rx="9.8" ry="8.2" transform="rotate(0 577.6 96.4)" fill="#2a8a18" opacity="0.85"/>
<ellipse cx="559.0" cy="107.5" rx="6.0" ry="8.2" transform="rotate(0 559.0 107.5)" fill="#2a8a18" opacity="0.85"/>
<ellipse cx="567.7" cy="116.8" rx="9.6" ry="7.2" transform="rotate(0 567.7 116.8)" fill="#2a8a18" opacity="0.85"/>
<ellipse cx="543.5" cy="115.0" rx="8.2" ry="7.5" transform="rotate(0 543.5 115.0)" fill="#2a8a18" opacity="0.85"/>
<ellipse cx="550.3" cy="123.7" rx="9.8" ry="6.0" transform="rotate(-30 550.3 123.7)" fill="#2a8a18" opacity="0.85"/>
<ellipse cx="554.0" cy="136.0" rx="8.4" ry="7.0" transform="rotate(0 554.0 136.0)" fill="#2a8a18" opacity="0.85"/>
<ellipse cx="572.0" cy="139.1" rx="8.4" ry="5.6" transform="rotate(-10 572.0 139.1)" fill="#2a8a18" opacity="0.85"/>
<ellipse cx="605.8" cy="90.2" rx="7.0" ry="7.0" transform="rotate(0 605.8 90.2)" fill="#2a8a18" opacity="0.85"/>
<ellipse cx="621.9" cy="98.9" rx="7.0" ry="7.0" transform="rotate(0 621.9 98.9)" fill="#2a8a18" opacity="0.85"/>
<ellipse cx="635.6" cy="105.1" rx="11.2" ry="8.0" transform="rotate(-35 635.6 105.1)" fill="#2a8a18" opacity="0.85"/>
<ellipse cx="626.9" cy="121.2" rx="9.0" ry="6.8" transform="rotate(0 626.9 121.2)" fill="#2a8a18" opacity="0.85"/>
<ellipse cx="597.2" cy="134.8" rx="6.4" ry="11.2" transform="rotate(10 597.2 134.8)" fill="#2a8a18" opacity="0.85"/>
<ellipse cx="588.5" cy="85.2" rx="5.2" ry="5.2" transform="rotate(0 588.5 85.2)" fill="#2a8a18" opacity="0.85"/>
<ellipse cx="538.5" cy="32.5" rx="6.0" ry="6.0" transform="rotate(0 538.5 32.5)" fill="#2a8a18" opacity="0.85"/>
<ellipse cx="620.5" cy="138.5" rx="7.0" ry="5.6" transform="rotate(0 620.5 138.5)" fill="#2a8a18" opacity="0.85"/>
<ellipse cx="582.5" cy="123.5" rx="5.6" ry="5.6" transform="rotate(0 582.5 123.5)" fill="#2a8a18" opacity="0.85"/>
<ellipse cx="563.5" cy="42.5" rx="13.0" ry="5.0" transform="rotate(90 563.5 42.5)" fill="#2f9420" opacity="0.8"/>
<ellipse cx="557.5" cy="72.5" rx="14.0" ry="5.0" transform="rotate(5 557.5 72.5)" fill="#2f9420" opacity="0.8"/>
<ellipse cx="540.5" cy="82.5" rx="10.0" ry="5.0" transform="rotate(10 540.5 82.5)" fill="#2f9420" opacity="0.8"/>
<ellipse cx="592.5" cy="50.5" rx="10.0" ry="6.0" transform="rotate(80 592.5 50.5)" fill="#2f9420" opacity="0.8"/>
<ellipse cx="634.5" cy="41.5" rx="10.0" ry="6.0" transform="rotate(-20 634.5 41.5)" fill="#2f9420" opacity="0.8"/>
<ellipse cx="626.5" cy="64.5" rx="10.0" ry="5.0" transform="rotate(-40 626.5 64.5)" fill="#2f9420" opacity="0.8"/>
<ellipse cx="579.5" cy="98.5" rx="9.0" ry="6.0" transform="rotate(-50 579.5 98.5)" fill="#2f9420" opacity="0.8"/>
<ellipse cx="597.5" cy="124.5" rx="15.0" ry="4.0" transform="rotate(85 597.5 124.5)" fill="#2f9420" opacity="0.8"/>
<ellipse cx="630.5" cy="106.5" rx="12.0" ry="5.0" transform="rotate(-35 630.5 106.5)" fill="#2f9420" opacity="0.8"/>
<ellipse cx="621.5" cy="120.5" rx="12.0" ry="5.0" transform="rotate(0 621.5 120.5)" fill="#2f9420" opacity="0.8"/>
<ellipse cx="576.5" cy="124.5" rx="12.0" ry="4.0" transform="rotate(-30 576.5 124.5)" fill="#2f9420" opacity="0.8"/>
<ellipse cx="548.5" cy="120.5" rx="10.0" ry="6.0" transform="rotate(-30 548.5 120.5)" fill="#2f9420" opacity="0.8"/>
<ellipse cx="533.5" cy="73.5" rx="15.0" ry="4.0" transform="rotate(85 533.5 73.5)" fill="#2f9420" opacity="0.8"/>
<ellipse cx="610.5" cy="138.5" rx="10.0" ry="4.0" transform="rotate(-10 610.5 138.5)" fill="#2f9420" opacity="0.8"/>
<ellipse cx="605.5" cy="88.5" rx="10.0" ry="5.0" transform="rotate(45 605.5 88.5)" fill="#2f9420" opacity="0.8"/>
<ellipse cx="560.5" cy="106.5" rx="10.0" ry="4.0" transform="rotate(60 560.5 106.5)" fill="#2f9420" opacity="0.8"/>
<ellipse cx="640.5" cy="78.5" rx="10.0" ry="4.0" transform="rotate(80 640.5 78.5)" fill="#2f9420" opacity="0.8"/>
<ellipse cx="592.5" cy="68.5" rx="8.0" ry="4.0" transform="rotate(20 592.5 68.5)" fill="#2f9420" opacity="0.8"/>
</g><g filter="url(#bl2)">
<ellipse cx="563.9" cy="44.5" rx="5.5" ry="9.0" transform="rotate(0 563.9 44.5)" fill="#58c432" opacity="1"/>
<ellipse cx="563.9" cy="71.8" rx="7.0" ry="5.0" transform="rotate(0 563.9 71.8)" fill="#58c432" opacity="1"/>
<ellipse cx="546.6" cy="84.0" rx="6.0" ry="5.0" transform="rotate(-20 546.6 84.0)" fill="#58c432" opacity="1"/>
<ellipse cx="533.0" cy="60.5" rx="4.0" ry="10.0" transform="rotate(0 533.0 60.5)" fill="#58c432" opacity="1"/>
<ellipse cx="593.4" cy="38.4" rx="5.0" ry="5.0" transform="rotate(0 593.4 38.4)" fill="#58c432" opacity="1"/>
<ellipse cx="593.4" cy="50.8" rx="6.0" ry="5.5" transform="rotate(0 593.4 50.8)" fill="#58c432" opacity="1"/>
<ellipse cx="605.8" cy="54.5" rx="4.5" ry="6.5" transform="rotate(0 605.8 54.5)" fill="#58c432" opacity="1"/>
<ellipse cx="599.6" cy="45.8" rx="1.6" ry="1.6" transform="rotate(0 599.6 45.8)" fill="#58c432" opacity="1"/>
<ellipse cx="636.8" cy="42.1" rx="7.0" ry="5.5" transform="rotate(-10 636.8 42.1)" fill="#58c432" opacity="1"/>
<ellipse cx="623.2" cy="61.9" rx="5.5" ry="4.5" transform="rotate(-20 623.2 61.9)" fill="#58c432" opacity="1"/>
<ellipse cx="634.9" cy="61.3" rx="4.0" ry="6.0" transform="rotate(0 634.9 61.3)" fill="#58c432" opacity="1"/>
<ellipse cx="639.3" cy="73.1" rx="5.0" ry="4.5" transform="rotate(0 639.3 73.1)" fill="#58c432" opacity="1"/>
<ellipse cx="599.0" cy="73.1" rx="1.8" ry="1.8" transform="rotate(0 599.0 73.1)" fill="#58c432" opacity="1"/>
<ellipse cx="602.1" cy="83.0" rx="6.0" ry="5.0" transform="rotate(0 602.1 83.0)" fill="#58c432" opacity="1"/>
<ellipse cx="639.3" cy="83.0" rx="5.0" ry="6.0" transform="rotate(0 639.3 83.0)" fill="#58c432" opacity="1"/>
<ellipse cx="551.5" cy="96.4" rx="6.0" ry="4.0" transform="rotate(-10 551.5 96.4)" fill="#58c432" opacity="1"/>
<ellipse cx="577.6" cy="96.4" rx="6.5" ry="5.5" transform="rotate(0 577.6 96.4)" fill="#58c432" opacity="1"/>
<ellipse cx="559.0" cy="107.5" rx="4.0" ry="5.5" transform="rotate(0 559.0 107.5)" fill="#58c432" opacity="1"/>
<ellipse cx="567.7" cy="116.8" rx="6.0" ry="4.5" transform="rotate(0 567.7 116.8)" fill="#58c432" opacity="1"/>
<ellipse cx="543.5" cy="115.0" rx="5.5" ry="5.0" transform="rotate(0 543.5 115.0)" fill="#58c432" opacity="1"/>
<ellipse cx="550.3" cy="123.7" rx="6.5" ry="4.0" transform="rotate(-30 550.3 123.7)" fill="#58c432" opacity="1"/>
<ellipse cx="554.0" cy="136.0" rx="6.0" ry="5.0" transform="rotate(0 554.0 136.0)" fill="#58c432" opacity="1"/>
<ellipse cx="572.0" cy="139.1" rx="6.0" ry="4.0" transform="rotate(-10 572.0 139.1)" fill="#58c432" opacity="1"/>
<ellipse cx="605.8" cy="90.2" rx="5.0" ry="5.0" transform="rotate(0 605.8 90.2)" fill="#58c432" opacity="1"/>
<ellipse cx="621.9" cy="98.9" rx="5.0" ry="5.0" transform="rotate(0 621.9 98.9)" fill="#58c432" opacity="1"/>
<ellipse cx="635.6" cy="105.1" rx="7.0" ry="5.0" transform="rotate(-35 635.6 105.1)" fill="#58c432" opacity="1"/>
<ellipse cx="626.9" cy="121.2" rx="6.0" ry="4.5" transform="rotate(0 626.9 121.2)" fill="#58c432" opacity="1"/>
<ellipse cx="597.2" cy="134.8" rx="4.0" ry="7.0" transform="rotate(10 597.2 134.8)" fill="#58c432" opacity="1"/>
<ellipse cx="588.5" cy="85.2" rx="4.0" ry="4.0" transform="rotate(0 588.5 85.2)" fill="#58c432" opacity="1"/>
<ellipse cx="538.5" cy="32.5" rx="4.0" ry="4.0" transform="rotate(0 538.5 32.5)" fill="#58c432" opacity="1"/>
<ellipse cx="620.5" cy="138.5" rx="5.0" ry="4.0" transform="rotate(0 620.5 138.5)" fill="#58c432" opacity="1"/>
<ellipse cx="582.5" cy="123.5" rx="4.0" ry="4.0" transform="rotate(0 582.5 123.5)" fill="#58c432" opacity="1"/>
<ellipse cx="563.9" cy="44.5" rx="3.4" ry="5.6" transform="rotate(0 563.9 44.5)" fill="#7a9a30" opacity="0.9"/>
<ellipse cx="563.9" cy="71.8" rx="4.3" ry="3.1" transform="rotate(0 563.9 71.8)" fill="#78a830" opacity="0.9"/>
<ellipse cx="546.6" cy="84.0" rx="3.7" ry="3.1" transform="rotate(-20 546.6 84.0)" fill="#9aa030" opacity="0.9"/>
<ellipse cx="533.0" cy="60.5" rx="2.5" ry="6.2" transform="rotate(0 533.0 60.5)" fill="#40a020" opacity="0.9"/>
<ellipse cx="593.4" cy="38.4" rx="3.1" ry="3.1" transform="rotate(0 593.4 38.4)" fill="#98a830" opacity="0.9"/>
<ellipse cx="593.4" cy="50.8" rx="3.7" ry="3.4" transform="rotate(0 593.4 50.8)" fill="#90b030" opacity="0.9"/>
<ellipse cx="605.8" cy="54.5" rx="2.8" ry="4.0" transform="rotate(0 605.8 54.5)" fill="#6aa030" opacity="0.9"/>
<ellipse cx="599.6" cy="45.8" rx="1.0" ry="1.0" transform="rotate(0 599.6 45.8)" fill="#80e050" opacity="0.9"/>
<ellipse cx="636.8" cy="42.1" rx="4.3" ry="3.4" transform="rotate(-10 636.8 42.1)" fill="#a0a830" opacity="0.9"/>
<ellipse cx="623.2" cy="61.9" rx="3.4" ry="2.8" transform="rotate(-20 623.2 61.9)" fill="#7aa830" opacity="0.9"/>
<ellipse cx="634.9" cy="61.3" rx="2.5" ry="3.7" transform="rotate(0 634.9 61.3)" fill="#a8a830" opacity="0.9"/>
<ellipse cx="639.3" cy="73.1" rx="3.1" ry="2.8" transform="rotate(0 639.3 73.1)" fill="#d06a20" opacity="0.9"/>
<ellipse cx="599.0" cy="73.1" rx="1.1" ry="1.1" transform="rotate(0 599.0 73.1)" fill="#80e050" opacity="0.9"/>
<ellipse cx="602.1" cy="83.0" rx="3.7" ry="3.1" transform="rotate(0 602.1 83.0)" fill="#7aa830" opacity="0.9"/>
<ellipse cx="639.3" cy="83.0" rx="3.1" ry="3.7" transform="rotate(0 639.3 83.0)" fill="#a8a030" opacity="0.9"/>
<ellipse cx="551.5" cy="96.4" rx="3.7" ry="2.5" transform="rotate(-10 551.5 96.4)" fill="#a0a030" opacity="0.9"/>
<ellipse cx="577.6" cy="96.4" rx="4.0" ry="3.4" transform="rotate(0 577.6 96.4)" fill="#98a830" opacity="0.9"/>
<ellipse cx="559.0" cy="107.5" rx="2.5" ry="3.4" transform="rotate(0 559.0 107.5)" fill="#98b030" opacity="0.9"/>
<ellipse cx="567.7" cy="116.8" rx="3.7" ry="2.8" transform="rotate(0 567.7 116.8)" fill="#c09028" opacity="0.9"/>
<ellipse cx="543.5" cy="115.0" rx="3.4" ry="3.1" transform="rotate(0 543.5 115.0)" fill="#98a830" opacity="0.9"/>
<ellipse cx="550.3" cy="123.7" rx="4.0" ry="2.5" transform="rotate(-30 550.3 123.7)" fill="#a0a830" opacity="0.9"/>
<ellipse cx="554.0" cy="136.0" rx="3.7" ry="3.1" transform="rotate(0 554.0 136.0)" fill="#98a830" opacity="0.9"/>
<ellipse cx="572.0" cy="139.1" rx="3.7" ry="2.5" transform="rotate(-10 572.0 139.1)" fill="#e05020" opacity="0.9"/>
<ellipse cx="605.8" cy="90.2" rx="3.1" ry="3.1" transform="rotate(0 605.8 90.2)" fill="#a0a030" opacity="0.9"/>
<ellipse cx="621.9" cy="98.9" rx="3.1" ry="3.1" transform="rotate(0 621.9 98.9)" fill="#a0a030" opacity="0.9"/>
<ellipse cx="635.6" cy="105.1" rx="4.3" ry="3.1" transform="rotate(-35 635.6 105.1)" fill="#b07a28" opacity="0.9"/>
<ellipse cx="626.9" cy="121.2" rx="3.7" ry="2.8" transform="rotate(0 626.9 121.2)" fill="#a0a030" opacity="0.9"/>
<ellipse cx="597.2" cy="134.8" rx="2.5" ry="4.3" transform="rotate(10 597.2 134.8)" fill="#a0a830" opacity="0.9"/>
<ellipse cx="588.5" cy="85.2" rx="2.5" ry="2.5" transform="rotate(0 588.5 85.2)" fill="#90a030" opacity="0.9"/>
<ellipse cx="538.5" cy="32.5" rx="2.5" ry="2.5" transform="rotate(0 538.5 32.5)" fill="#6a8a28" opacity="0.9"/>
<ellipse cx="620.5" cy="138.5" rx="3.1" ry="2.5" transform="rotate(0 620.5 138.5)" fill="#90a030" opacity="0.9"/>
<ellipse cx="582.5" cy="123.5" rx="2.5" ry="2.5" transform="rotate(0 582.5 123.5)" fill="#80a028" opacity="0.9"/>
</g>
<g filter="url(#bl4)"><ellipse cx="552.5" cy="50.5" rx="26" ry="24" fill="#000" opacity="0.35"/><ellipse cx="588.5" cy="116.5" rx="10" ry="12" fill="#000" opacity="0.3"/></g>
<line x1="622.20" y1="139.10" x2="640.80" y2="139.10" stroke="#ffffff" stroke-width="2"/>
</g>
<g clip-path="url(#c2)">
<rect x="650" y="28.5" width="114.5" height="114.5" fill="#020502"/>
<g filter="url(#bl4)">
<ellipse cx="666.0" cy="46.5" rx="13.2" ry="15.4" transform="rotate(60 666.0 46.5)" fill="#0e4e08" opacity="0.4"/>
<ellipse cx="678.0" cy="50.5" rx="14.3" ry="8.8" transform="rotate(-55 678.0 50.5)" fill="#0e4e08" opacity="0.8"/>
<ellipse cx="683.0" cy="70.5" rx="13.2" ry="8.8" transform="rotate(-80 683.0 70.5)" fill="#0e4e08" opacity="0.8"/>
<ellipse cx="700.0" cy="40.5" rx="15.4" ry="7.7" transform="rotate(80 700.0 40.5)" fill="#0e4e08" opacity="0.8"/>
<ellipse cx="694.0" cy="58.5" rx="11.0" ry="11.0" transform="rotate(-40 694.0 58.5)" fill="#0e4e08" opacity="0.8"/>
<ellipse cx="710.0" cy="60.5" rx="13.2" ry="11.0" transform="rotate(-20 710.0 60.5)" fill="#0e4e08" opacity="0.8"/>
<ellipse cx="724.0" cy="46.5" rx="17.6" ry="11.0" transform="rotate(-30 724.0 46.5)" fill="#0e4e08" opacity="0.8"/>
<ellipse cx="728.0" cy="30.5" rx="13.2" ry="8.8" transform="rotate(-30 728.0 30.5)" fill="#0e4e08" opacity="0.8"/>
<ellipse cx="756.0" cy="31.5" rx="8.8" ry="11.0" transform="rotate(60 756.0 31.5)" fill="#0e4e08" opacity="0.8"/>
<ellipse cx="664.0" cy="85.5" rx="14.3" ry="8.8" transform="rotate(-5 664.0 85.5)" fill="#0e4e08" opacity="0.8"/>
<ellipse cx="672.0" cy="91.5" rx="15.4" ry="8.8" transform="rotate(-45 672.0 91.5)" fill="#0e4e08" opacity="0.8"/>
<ellipse cx="694.0" cy="88.5" rx="13.2" ry="11.0" transform="rotate(-15 694.0 88.5)" fill="#0e4e08" opacity="0.8"/>
<ellipse cx="706.0" cy="80.5" rx="13.2" ry="13.2" transform="rotate(-40 706.0 80.5)" fill="#0e4e08" opacity="0.8"/>
<ellipse cx="734.0" cy="79.5" rx="17.6" ry="13.2" transform="rotate(-10 734.0 79.5)" fill="#0e4e08" opacity="0.8"/>
<ellipse cx="736.0" cy="96.5" rx="13.2" ry="11.0" transform="rotate(-30 736.0 96.5)" fill="#0e4e08" opacity="0.8"/>
<ellipse cx="726.0" cy="102.5" rx="13.2" ry="11.0" transform="rotate(-30 726.0 102.5)" fill="#0e4e08" opacity="0.8"/>
<ellipse cx="759.0" cy="76.5" rx="15.4" ry="8.8" transform="rotate(-80 759.0 76.5)" fill="#0e4e08" opacity="0.8"/>
<ellipse cx="706.0" cy="104.5" rx="13.2" ry="11.0" transform="rotate(40 706.0 104.5)" fill="#0e4e08" opacity="0.8"/>
<ellipse cx="678.0" cy="112.5" rx="15.4" ry="8.8" transform="rotate(-60 678.0 112.5)" fill="#0e4e08" opacity="0.8"/>
<ellipse cx="692.0" cy="120.5" rx="11.0" ry="8.8" transform="rotate(40 692.0 120.5)" fill="#0e4e08" opacity="0.8"/>
<ellipse cx="712.0" cy="124.5" rx="15.4" ry="11.0" transform="rotate(45 712.0 124.5)" fill="#0e4e08" opacity="0.8"/>
<ellipse cx="663.0" cy="124.5" rx="17.6" ry="8.8" transform="rotate(85 663.0 124.5)" fill="#0e4e08" opacity="0.8"/>
<ellipse cx="697.0" cy="129.5" rx="11.0" ry="8.8" transform="rotate(-40 697.0 129.5)" fill="#0e4e08" opacity="0.8"/>
<ellipse cx="718.0" cy="132.5" rx="11.0" ry="11.0" transform="rotate(60 718.0 132.5)" fill="#0e4e08" opacity="0.8"/>
<ellipse cx="740.0" cy="135.5" rx="11.0" ry="8.8" transform="rotate(-80 740.0 135.5)" fill="#0e4e08" opacity="0.8"/>
<ellipse cx="761.0" cy="127.5" rx="7.7" ry="15.4" transform="rotate(0 761.0 127.5)" fill="#0e4e08" opacity="0.8"/>
<ellipse cx="670.0" cy="136.5" rx="11.0" ry="8.8" transform="rotate(70 670.0 136.5)" fill="#0e4e08" opacity="0.8"/>
<ellipse cx="651.0" cy="128.5" rx="11.0" ry="6.6" transform="rotate(85 651.0 128.5)" fill="#0e4e08" opacity="0.8"/>
</g><g filter="url(#bl)">
<ellipse cx="666.0" cy="46.5" rx="12.0" ry="9.1" transform="rotate(60 666.0 46.5)" fill="#1f8a14" opacity="0.425"/>
<ellipse cx="678.0" cy="50.5" rx="13.0" ry="5.2" transform="rotate(-55 678.0 50.5)" fill="#1f8a14" opacity="0.85"/>
<ellipse cx="683.0" cy="70.5" rx="12.0" ry="5.2" transform="rotate(-80 683.0 70.5)" fill="#1f8a14" opacity="0.85"/>
<ellipse cx="700.0" cy="40.5" rx="14.0" ry="4.5" transform="rotate(80 700.0 40.5)" fill="#1f8a14" opacity="0.85"/>
<ellipse cx="694.0" cy="58.5" rx="10.0" ry="6.5" transform="rotate(-40 694.0 58.5)" fill="#1f8a14" opacity="0.85"/>
<ellipse cx="710.0" cy="60.5" rx="12.0" ry="6.5" transform="rotate(-20 710.0 60.5)" fill="#1f8a14" opacity="0.85"/>
<ellipse cx="724.0" cy="46.5" rx="16.0" ry="6.5" transform="rotate(-30 724.0 46.5)" fill="#1f8a14" opacity="0.85"/>
<ellipse cx="728.0" cy="30.5" rx="12.0" ry="5.2" transform="rotate(-30 728.0 30.5)" fill="#1f8a14" opacity="0.85"/>
<ellipse cx="756.0" cy="31.5" rx="8.0" ry="6.5" transform="rotate(60 756.0 31.5)" fill="#1f8a14" opacity="0.85"/>
<ellipse cx="664.0" cy="85.5" rx="13.0" ry="5.2" transform="rotate(-5 664.0 85.5)" fill="#1f8a14" opacity="0.85"/>
<ellipse cx="672.0" cy="91.5" rx="14.0" ry="5.2" transform="rotate(-45 672.0 91.5)" fill="#1f8a14" opacity="0.85"/>
<ellipse cx="694.0" cy="88.5" rx="12.0" ry="6.5" transform="rotate(-15 694.0 88.5)" fill="#1f8a14" opacity="0.85"/>
<ellipse cx="706.0" cy="80.5" rx="12.0" ry="7.8" transform="rotate(-40 706.0 80.5)" fill="#1f8a14" opacity="0.85"/>
<ellipse cx="734.0" cy="79.5" rx="16.0" ry="7.8" transform="rotate(-10 734.0 79.5)" fill="#1f8a14" opacity="0.85"/>
<ellipse cx="736.0" cy="96.5" rx="12.0" ry="6.5" transform="rotate(-30 736.0 96.5)" fill="#1f8a14" opacity="0.85"/>
<ellipse cx="726.0" cy="102.5" rx="12.0" ry="6.5" transform="rotate(-30 726.0 102.5)" fill="#1f8a14" opacity="0.85"/>
<ellipse cx="759.0" cy="76.5" rx="14.0" ry="5.2" transform="rotate(-80 759.0 76.5)" fill="#1f8a14" opacity="0.85"/>
<ellipse cx="706.0" cy="104.5" rx="12.0" ry="6.5" transform="rotate(40 706.0 104.5)" fill="#1f8a14" opacity="0.85"/>
<ellipse cx="678.0" cy="112.5" rx="14.0" ry="5.2" transform="rotate(-60 678.0 112.5)" fill="#1f8a14" opacity="0.85"/>
<ellipse cx="692.0" cy="120.5" rx="10.0" ry="5.2" transform="rotate(40 692.0 120.5)" fill="#1f8a14" opacity="0.85"/>
<ellipse cx="712.0" cy="124.5" rx="14.0" ry="6.5" transform="rotate(45 712.0 124.5)" fill="#1f8a14" opacity="0.85"/>
<ellipse cx="663.0" cy="124.5" rx="16.0" ry="5.2" transform="rotate(85 663.0 124.5)" fill="#1f8a14" opacity="0.85"/>
<ellipse cx="697.0" cy="129.5" rx="10.0" ry="5.2" transform="rotate(-40 697.0 129.5)" fill="#1f8a14" opacity="0.85"/>
<ellipse cx="718.0" cy="132.5" rx="10.0" ry="6.5" transform="rotate(60 718.0 132.5)" fill="#1f8a14" opacity="0.85"/>
<ellipse cx="740.0" cy="135.5" rx="10.0" ry="5.2" transform="rotate(-80 740.0 135.5)" fill="#1f8a14" opacity="0.85"/>
<ellipse cx="761.0" cy="127.5" rx="7.0" ry="9.1" transform="rotate(0 761.0 127.5)" fill="#1f8a14" opacity="0.85"/>
<ellipse cx="670.0" cy="136.5" rx="10.0" ry="5.2" transform="rotate(70 670.0 136.5)" fill="#1f8a14" opacity="0.85"/>
<ellipse cx="651.0" cy="128.5" rx="10.0" ry="3.9" transform="rotate(85 651.0 128.5)" fill="#1f8a14" opacity="0.85"/>
<ellipse cx="668.0" cy="76.5" rx="14.0" ry="2.0" transform="rotate(-15 668.0 76.5)" fill="#2a9a18" opacity="0.8"/>
<ellipse cx="760.0" cy="58.5" rx="10.0" ry="2.0" transform="rotate(-70 760.0 58.5)" fill="#2a9a18" opacity="0.8"/>
<ellipse cx="690.0" cy="100.5" rx="12.0" ry="2.0" transform="rotate(-60 690.0 100.5)" fill="#2a9a18" opacity="0.8"/>
<ellipse cx="745.0" cy="88.5" rx="12.0" ry="3.0" transform="rotate(20 745.0 88.5)" fill="#2a9a18" opacity="0.8"/>
<ellipse cx="713.0" cy="92.5" rx="10.0" ry="3.0" transform="rotate(-70 713.0 92.5)" fill="#2a9a18" opacity="0.8"/>
<ellipse cx="680.0" cy="128.5" rx="10.0" ry="2.0" transform="rotate(-80 680.0 128.5)" fill="#2a9a18" opacity="0.8"/>
<ellipse cx="714.0" cy="72.5" rx="10.0" ry="2.5" transform="rotate(-60 714.0 72.5)" fill="#2a9a18" opacity="0.8"/>
<ellipse cx="738.0" cy="116.5" rx="8.0" ry="2.0" transform="rotate(-40 738.0 116.5)" fill="#2a9a18" opacity="0.8"/>
</g><g filter="url(#bl2)">
<ellipse cx="666.0" cy="46.5" rx="10.2" ry="5.2" transform="rotate(60 666.0 46.5)" fill="#3cbc26" opacity="0.45"/>
<ellipse cx="678.0" cy="50.5" rx="11.0" ry="3.0" transform="rotate(-55 678.0 50.5)" fill="#3cbc26" opacity="0.9"/>
<ellipse cx="683.0" cy="70.5" rx="10.2" ry="3.0" transform="rotate(-80 683.0 70.5)" fill="#3cbc26" opacity="0.9"/>
<ellipse cx="700.0" cy="40.5" rx="11.9" ry="2.6" transform="rotate(80 700.0 40.5)" fill="#3cbc26" opacity="0.9"/>
<ellipse cx="694.0" cy="58.5" rx="8.5" ry="3.8" transform="rotate(-40 694.0 58.5)" fill="#3cbc26" opacity="0.9"/>
<ellipse cx="710.0" cy="60.5" rx="10.2" ry="3.8" transform="rotate(-20 710.0 60.5)" fill="#3cbc26" opacity="0.9"/>
<ellipse cx="724.0" cy="46.5" rx="13.6" ry="3.8" transform="rotate(-30 724.0 46.5)" fill="#3cbc26" opacity="0.9"/>
<ellipse cx="728.0" cy="30.5" rx="10.2" ry="3.0" transform="rotate(-30 728.0 30.5)" fill="#3cbc26" opacity="0.9"/>
<ellipse cx="756.0" cy="31.5" rx="6.8" ry="3.8" transform="rotate(60 756.0 31.5)" fill="#3cbc26" opacity="0.9"/>
<ellipse cx="664.0" cy="85.5" rx="11.0" ry="3.0" transform="rotate(-5 664.0 85.5)" fill="#3cbc26" opacity="0.9"/>
<ellipse cx="672.0" cy="91.5" rx="11.9" ry="3.0" transform="rotate(-45 672.0 91.5)" fill="#3cbc26" opacity="0.9"/>
<ellipse cx="694.0" cy="88.5" rx="10.2" ry="3.8" transform="rotate(-15 694.0 88.5)" fill="#3cbc26" opacity="0.9"/>
<ellipse cx="706.0" cy="80.5" rx="10.2" ry="4.5" transform="rotate(-40 706.0 80.5)" fill="#3cbc26" opacity="0.9"/>
<ellipse cx="734.0" cy="79.5" rx="13.6" ry="4.5" transform="rotate(-10 734.0 79.5)" fill="#3cbc26" opacity="0.9"/>
<ellipse cx="736.0" cy="96.5" rx="10.2" ry="3.8" transform="rotate(-30 736.0 96.5)" fill="#3cbc26" opacity="0.9"/>
<ellipse cx="726.0" cy="102.5" rx="10.2" ry="3.8" transform="rotate(-30 726.0 102.5)" fill="#3cbc26" opacity="0.9"/>
<ellipse cx="759.0" cy="76.5" rx="11.9" ry="3.0" transform="rotate(-80 759.0 76.5)" fill="#3cbc26" opacity="0.9"/>
<ellipse cx="706.0" cy="104.5" rx="10.2" ry="3.8" transform="rotate(40 706.0 104.5)" fill="#3cbc26" opacity="0.9"/>
<ellipse cx="678.0" cy="112.5" rx="11.9" ry="3.0" transform="rotate(-60 678.0 112.5)" fill="#3cbc26" opacity="0.9"/>
<ellipse cx="692.0" cy="120.5" rx="8.5" ry="3.0" transform="rotate(40 692.0 120.5)" fill="#3cbc26" opacity="0.9"/>
<ellipse cx="712.0" cy="124.5" rx="11.9" ry="3.8" transform="rotate(45 712.0 124.5)" fill="#3cbc26" opacity="0.9"/>
<ellipse cx="663.0" cy="124.5" rx="13.6" ry="3.0" transform="rotate(85 663.0 124.5)" fill="#3cbc26" opacity="0.9"/>
<ellipse cx="697.0" cy="129.5" rx="8.5" ry="3.0" transform="rotate(-40 697.0 129.5)" fill="#3cbc26" opacity="0.9"/>
<ellipse cx="718.0" cy="132.5" rx="8.5" ry="3.8" transform="rotate(60 718.0 132.5)" fill="#3cbc26" opacity="0.9"/>
<ellipse cx="740.0" cy="135.5" rx="8.5" ry="3.0" transform="rotate(-80 740.0 135.5)" fill="#3cbc26" opacity="0.9"/>
<ellipse cx="761.0" cy="127.5" rx="6.0" ry="5.2" transform="rotate(0 761.0 127.5)" fill="#3cbc26" opacity="0.9"/>
<ellipse cx="670.0" cy="136.5" rx="8.5" ry="3.0" transform="rotate(70 670.0 136.5)" fill="#3cbc26" opacity="0.9"/>
<ellipse cx="651.0" cy="128.5" rx="8.5" ry="2.2" transform="rotate(85 651.0 128.5)" fill="#3cbc26" opacity="0.9"/>
<ellipse cx="665.6" cy="44.6" rx="3.8" ry="2.9" transform="rotate(60 665.6 44.6)" fill="#8a6a22" opacity="0.46"/>
<ellipse cx="675.5" cy="54.5" rx="3.8" ry="2.9" transform="rotate(-55 675.5 54.5)" fill="#c0802a" opacity="0.92"/>
<ellipse cx="684.2" cy="65.7" rx="3.8" ry="2.9" transform="rotate(-80 684.2 65.7)" fill="#c88a2a" opacity="0.92"/>
<ellipse cx="699.0" cy="33.5" rx="3.8" ry="2.9" transform="rotate(80 699.0 33.5)" fill="#b89a30" opacity="0.92"/>
<ellipse cx="694.0" cy="59.5" rx="3.8" ry="2.9" transform="rotate(-40 694.0 59.5)" fill="#b0a030" opacity="0.92"/>
<ellipse cx="707.7" cy="62.0" rx="3.8" ry="2.9" transform="rotate(-20 707.7 62.0)" fill="#c8802a" opacity="0.92"/>
<ellipse cx="721.4" cy="48.3" rx="3.8" ry="2.9" transform="rotate(-30 721.4 48.3)" fill="#c0902a" opacity="0.92"/>
<ellipse cx="722.6" cy="32.2" rx="3.8" ry="2.9" transform="rotate(-30 722.6 32.2)" fill="#c0802a" opacity="0.92"/>
<ellipse cx="756.0" cy="29.7" rx="3.8" ry="2.9" transform="rotate(60 756.0 29.7)" fill="#c0902a" opacity="0.92"/>
<ellipse cx="661.9" cy="85.5" rx="3.8" ry="2.9" transform="rotate(-5 661.9 85.5)" fill="#a0a830" opacity="0.92"/>
<ellipse cx="668.0" cy="95.5" rx="3.8" ry="2.9" transform="rotate(-45 668.0 95.5)" fill="#c0802a" opacity="0.92"/>
<ellipse cx="691.6" cy="90.5" rx="3.8" ry="2.9" transform="rotate(-15 691.6 90.5)" fill="#b89a30" opacity="0.92"/>
<ellipse cx="705.3" cy="81.8" rx="3.8" ry="2.9" transform="rotate(-40 705.3 81.8)" fill="#c8802a" opacity="0.92"/>
<ellipse cx="737.5" cy="79.3" rx="3.8" ry="2.9" transform="rotate(-10 737.5 79.3)" fill="#d06024" opacity="0.92"/>
<ellipse cx="732.5" cy="99.1" rx="3.8" ry="2.9" transform="rotate(-30 732.5 99.1)" fill="#c0802a" opacity="0.92"/>
<ellipse cx="723.9" cy="104.1" rx="3.8" ry="2.9" transform="rotate(-30 723.9 104.1)" fill="#c8802a" opacity="0.92"/>
<ellipse cx="758.6" cy="80.5" rx="3.8" ry="2.9" transform="rotate(-80 758.6 80.5)" fill="#c0802a" opacity="0.92"/>
<ellipse cx="707.7" cy="106.6" rx="3.8" ry="2.9" transform="rotate(40 707.7 106.6)" fill="#b89a30" opacity="0.92"/>
<ellipse cx="679.2" cy="107.8" rx="3.8" ry="2.9" transform="rotate(-60 679.2 107.8)" fill="#c8802a" opacity="0.92"/>
<ellipse cx="690.4" cy="119.0" rx="3.8" ry="2.9" transform="rotate(40 690.4 119.0)" fill="#c0802a" opacity="0.92"/>
<ellipse cx="707.7" cy="120.2" rx="3.8" ry="2.9" transform="rotate(45 707.7 120.2)" fill="#c8802a" opacity="0.92"/>
<ellipse cx="661.9" cy="127.7" rx="3.8" ry="2.9" transform="rotate(85 661.9 127.7)" fill="#c0802a" opacity="0.92"/>
<ellipse cx="699.0" cy="127.7" rx="3.8" ry="2.9" transform="rotate(-40 699.0 127.7)" fill="#c8702a" opacity="0.92"/>
<ellipse cx="716.4" cy="130.1" rx="3.8" ry="2.9" transform="rotate(60 716.4 130.1)" fill="#c0802a" opacity="0.92"/>
<ellipse cx="740.0" cy="133.9" rx="3.8" ry="2.9" transform="rotate(-80 740.0 133.9)" fill="#c0902a" opacity="0.92"/>
<ellipse cx="761.0" cy="127.7" rx="3.8" ry="2.9" transform="rotate(0 761.0 127.7)" fill="#b8802a" opacity="0.92"/>
<ellipse cx="668.0" cy="135.1" rx="3.8" ry="2.9" transform="rotate(70 668.0 135.1)" fill="#c0802a" opacity="0.92"/>
<ellipse cx="650.7" cy="130.1" rx="3.8" ry="2.9" transform="rotate(85 650.7 130.1)" fill="#c0802a" opacity="0.92"/>
</g>
<line x1="742.50" y1="139.10" x2="760.00" y2="139.10" stroke="#ffffff" stroke-width="2"/>
</g>
<text x="592.2" y="155.4" font-size="9.6" text-anchor="middle" fill="#1a1a1a" font-weight="normal" font-style="normal" textLength="26.8" lengthAdjust="spacingAndGlyphs" stroke="#1a1a1a" stroke-width="0.22" >DMSO</text>
<text x="711.1" y="155.4" font-size="9.6" text-anchor="middle" fill="#1a1a1a" font-weight="normal" font-style="normal" textLength="68.6" lengthAdjust="spacingAndGlyphs" stroke="#1a1a1a" stroke-width="0.22" >BAY-856 [0.1 µM]</text>
<text x="769.6" y="76.3" font-size="9.6" text-anchor="start" fill="#3a9270" font-weight="normal" font-style="normal" textLength="16.4" lengthAdjust="spacingAndGlyphs" stroke="#3a9270" stroke-width="0.22" >YAP</text>
<text x="769.6" y="98.9" font-size="9.6" text-anchor="start" fill="#b04a46" font-weight="normal" font-style="normal" textLength="23.5" lengthAdjust="spacingAndGlyphs" stroke="#b04a46" stroke-width="0.22" >Nuclei</text>
<line x1="574.90" y1="174.20" x2="574.90" y2="281.00" stroke="#1a1a1a" stroke-width="1.2"/>
<line x1="574.30" y1="280.40" x2="715.50" y2="280.40" stroke="#1a1a1a" stroke-width="1.2"/>
<line x1="571.40" y1="280.30" x2="574.90" y2="280.30" stroke="#1a1a1a" stroke-width="1.1"/>
<line x1="571.40" y1="228.05" x2="574.90" y2="228.05" stroke="#1a1a1a" stroke-width="1.1"/>
<line x1="571.40" y1="175.80" x2="574.90" y2="175.80" stroke="#1a1a1a" stroke-width="1.1"/>
<line x1="583.16" y1="280.40" x2="583.16" y2="282.40" stroke="#1a1a1a" stroke-width="0.9"/>
<line x1="588.11" y1="280.40" x2="588.11" y2="282.40" stroke="#1a1a1a" stroke-width="0.9"/>
<line x1="591.62" y1="280.40" x2="591.62" y2="282.40" stroke="#1a1a1a" stroke-width="0.9"/>
<line x1="594.34" y1="280.40" x2="594.34" y2="282.40" stroke="#1a1a1a" stroke-width="0.9"/>
<line x1="596.57" y1="280.40" x2="596.57" y2="282.40" stroke="#1a1a1a" stroke-width="0.9"/>
<line x1="598.45" y1="280.40" x2="598.45" y2="282.40" stroke="#1a1a1a" stroke-width="0.9"/>
<line x1="600.08" y1="280.40" x2="600.08" y2="282.40" stroke="#1a1a1a" stroke-width="0.9"/>
<line x1="601.51" y1="280.40" x2="601.51" y2="282.40" stroke="#1a1a1a" stroke-width="0.9"/>
<line x1="602.80" y1="280.40" x2="602.80" y2="284.00" stroke="#1a1a1a" stroke-width="0.9"/>
<line x1="611.26" y1="280.40" x2="611.26" y2="282.40" stroke="#1a1a1a" stroke-width="0.9"/>
<line x1="616.21" y1="280.40" x2="616.21" y2="282.40" stroke="#1a1a1a" stroke-width="0.9"/>
<line x1="619.72" y1="280.40" x2="619.72" y2="282.40" stroke="#1a1a1a" stroke-width="0.9"/>
<line x1="622.44" y1="280.40" x2="622.44" y2="282.40" stroke="#1a1a1a" stroke-width="0.9"/>
<line x1="624.67" y1="280.40" x2="624.67" y2="282.40" stroke="#1a1a1a" stroke-width="0.9"/>
<line x1="626.55" y1="280.40" x2="626.55" y2="282.40" stroke="#1a1a1a" stroke-width="0.9"/>
<line x1="628.18" y1="280.40" x2="628.18" y2="282.40" stroke="#1a1a1a" stroke-width="0.9"/>
<line x1="629.61" y1="280.40" x2="629.61" y2="282.40" stroke="#1a1a1a" stroke-width="0.9"/>
<line x1="630.90" y1="280.40" x2="630.90" y2="284.00" stroke="#1a1a1a" stroke-width="0.9"/>
<line x1="639.36" y1="280.40" x2="639.36" y2="282.40" stroke="#1a1a1a" stroke-width="0.9"/>
<line x1="644.31" y1="280.40" x2="644.31" y2="282.40" stroke="#1a1a1a" stroke-width="0.9"/>
<line x1="647.82" y1="280.40" x2="647.82" y2="282.40" stroke="#1a1a1a" stroke-width="0.9"/>
<line x1="650.54" y1="280.40" x2="650.54" y2="282.40" stroke="#1a1a1a" stroke-width="0.9"/>
<line x1="652.77" y1="280.40" x2="652.77" y2="282.40" stroke="#1a1a1a" stroke-width="0.9"/>
<line x1="654.65" y1="280.40" x2="654.65" y2="282.40" stroke="#1a1a1a" stroke-width="0.9"/>
<line x1="656.28" y1="280.40" x2="656.28" y2="282.40" stroke="#1a1a1a" stroke-width="0.9"/>
<line x1="657.71" y1="280.40" x2="657.71" y2="282.40" stroke="#1a1a1a" stroke-width="0.9"/>
<line x1="659.00" y1="280.40" x2="659.00" y2="284.00" stroke="#1a1a1a" stroke-width="0.9"/>
<line x1="667.46" y1="280.40" x2="667.46" y2="282.40" stroke="#1a1a1a" stroke-width="0.9"/>
<line x1="672.41" y1="280.40" x2="672.41" y2="282.40" stroke="#1a1a1a" stroke-width="0.9"/>
<line x1="675.92" y1="280.40" x2="675.92" y2="282.40" stroke="#1a1a1a" stroke-width="0.9"/>
<line x1="678.64" y1="280.40" x2="678.64" y2="282.40" stroke="#1a1a1a" stroke-width="0.9"/>
<line x1="680.87" y1="280.40" x2="680.87" y2="282.40" stroke="#1a1a1a" stroke-width="0.9"/>
<line x1="682.75" y1="280.40" x2="682.75" y2="282.40" stroke="#1a1a1a" stroke-width="0.9"/>
<line x1="684.38" y1="280.40" x2="684.38" y2="282.40" stroke="#1a1a1a" stroke-width="0.9"/>
<line x1="685.81" y1="280.40" x2="685.81" y2="282.40" stroke="#1a1a1a" stroke-width="0.9"/>
<line x1="687.10" y1="280.40" x2="687.10" y2="284.00" stroke="#1a1a1a" stroke-width="0.9"/>
<line x1="695.56" y1="280.40" x2="695.56" y2="282.40" stroke="#1a1a1a" stroke-width="0.9"/>
<line x1="700.51" y1="280.40" x2="700.51" y2="282.40" stroke="#1a1a1a" stroke-width="0.9"/>
<line x1="704.02" y1="280.40" x2="704.02" y2="282.40" stroke="#1a1a1a" stroke-width="0.9"/>
<line x1="706.74" y1="280.40" x2="706.74" y2="282.40" stroke="#1a1a1a" stroke-width="0.9"/>
<line x1="708.97" y1="280.40" x2="708.97" y2="282.40" stroke="#1a1a1a" stroke-width="0.9"/>
<line x1="710.85" y1="280.40" x2="710.85" y2="282.40" stroke="#1a1a1a" stroke-width="0.9"/>
<line x1="712.48" y1="280.40" x2="712.48" y2="282.40" stroke="#1a1a1a" stroke-width="0.9"/>
<line x1="713.91" y1="280.40" x2="713.91" y2="282.40" stroke="#1a1a1a" stroke-width="0.9"/>
<line x1="715.20" y1="280.40" x2="715.20" y2="284.00" stroke="#1a1a1a" stroke-width="0.9"/>
<line x1="715.20" y1="280.40" x2="715.20" y2="284.00" stroke="#1a1a1a" stroke-width="0.9"/>
<text x="569.6" y="178.8" font-size="8.5" text-anchor="end" fill="#1a1a1a" font-weight="normal" font-style="normal" stroke="#1a1a1a" stroke-width="0.22" >100</text>
<text x="569.6" y="231.05" font-size="8.5" text-anchor="end" fill="#1a1a1a" font-weight="normal" font-style="normal" stroke="#1a1a1a" stroke-width="0.22" >50</text>
<text x="569.6" y="283.3" font-size="8.5" text-anchor="end" fill="#1a1a1a" font-weight="normal" font-style="normal" stroke="#1a1a1a" stroke-width="0.22" >0</text>
<text x="574.7" y="293.4" font-size="8.3" text-anchor="middle" fill="#1a1a1a" font-weight="normal" font-style="normal" stroke="#1a1a1a" stroke-width="0.22" >0.0001</text>
<text x="602.8000000000001" y="293.4" font-size="8.3" text-anchor="middle" fill="#1a1a1a" font-weight="normal" font-style="normal" stroke="#1a1a1a" stroke-width="0.22" >0.001</text>
<text x="630.9000000000001" y="293.4" font-size="8.3" text-anchor="middle" fill="#1a1a1a" font-weight="normal" font-style="normal" stroke="#1a1a1a" stroke-width="0.22" >0.01</text>
<text x="659.0" y="293.4" font-size="8.3" text-anchor="middle" fill="#1a1a1a" font-weight="normal" font-style="normal" stroke="#1a1a1a" stroke-width="0.22" >0.1</text>
<text x="687.1" y="293.4" font-size="8.3" text-anchor="middle" fill="#1a1a1a" font-weight="normal" font-style="normal" stroke="#1a1a1a" stroke-width="0.22" >1</text>
<text x="715.2" y="293.4" font-size="8.3" text-anchor="middle" fill="#1a1a1a" font-weight="normal" font-style="normal" stroke="#1a1a1a" stroke-width="0.22" >10</text>
<text x="646.7" y="305.3" font-size="9.4" text-anchor="middle" fill="#1a1a1a" font-weight="normal" font-style="normal" textLength="130.6" lengthAdjust="spacingAndGlyphs" stroke="#1a1a1a" stroke-width="0.22" >BAY-856 concentration [log, µM]</text>
<g transform="translate(545.2,230.2) rotate(-90)">
<text x="0" y="0" font-size="9.4" text-anchor="middle" fill="#1a1a1a" font-weight="normal" font-style="normal" textLength="100" lengthAdjust="spacingAndGlyphs" stroke="#1a1a1a" stroke-width="0.22" >YAP1 nuclear localization</text>
<text x="0" y="10.6" font-size="9.4" text-anchor="middle" fill="#1a1a1a" font-weight="normal" font-style="normal" textLength="57" lengthAdjust="spacingAndGlyphs" stroke="#1a1a1a" stroke-width="0.22" >(%, mean±SD)</text>
</g>
<polyline points="583.16,183.85 583.77,183.86 584.37,183.88 584.98,183.90 585.59,183.92 586.20,183.94 586.80,183.97 587.41,183.99 588.02,184.02 588.62,184.05 589.23,184.08 589.84,184.12 590.45,184.16 591.05,184.20 591.66,184.24 592.27,184.29 592.88,184.34 593.48,184.40 594.09,184.46 594.70,184.53 595.30,184.60 595.91,184.67 596.52,184.75 597.13,184.84 597.73,184.94 598.34,185.04 598.95,185.15 599.56,185.26 600.16,185.39 600.77,185.53 601.38,185.67 601.98,185.83 602.59,186.00 603.20,186.18 603.81,186.37 604.41,186.58 605.02,186.81 605.63,187.05 606.24,187.30 606.84,187.58 607.45,187.87 608.06,188.18 608.66,188.52 609.27,188.87 609.88,189.25 610.49,189.66 611.09,190.09 611.70,190.54 612.31,191.03 612.92,191.55 613.52,192.09 614.13,192.67 614.74,193.28 615.34,193.93 615.95,194.62 616.56,195.34 617.17,196.10 617.77,196.90 618.38,197.75 618.99,198.64 619.60,199.57 620.20,200.55 620.81,201.59 621.42,202.68 622.02,203.82 622.63,205.02 623.24,206.28 623.85,207.61 624.45,209.01 625.06,210.48 625.67,212.02 626.28,213.64 626.88,215.34 627.49,217.13 628.10,219.00 628.70,220.95 629.31,222.98 629.92,225.09 630.53,227.27 631.13,229.51 631.74,231.81 632.35,234.15 632.96,236.51 633.56,238.88 634.17,241.24 634.78,243.58 635.38,245.87 635.99,248.10 636.60,250.25 637.21,252.32 637.81,254.28 638.42,256.13 639.03,257.87 639.64,259.49 640.24,260.99 640.85,262.37 641.46,263.63 642.06,264.78 642.67,265.83 643.28,266.77 643.89,267.63 644.49,268.39 645.10,269.08 645.71,269.69 646.32,270.24 646.92,270.73 647.53,271.17 648.14,271.56 648.74,271.90 649.35,272.20 649.96,272.47 650.57,272.71 651.17,272.93 651.78,273.11 652.39,273.28 653.00,273.43 653.60,273.56 654.21,273.67 654.82,273.77 655.42,273.86 656.03,273.94 656.64,274.01 657.25,274.08 657.85,274.13 658.46,274.18 659.07,274.22 659.68,274.26 660.28,274.29 660.89,274.32 661.50,274.35 662.10,274.37 662.71,274.39 663.32,274.41 663.93,274.43 664.53,274.44 665.14,274.46 665.75,274.47 666.36,274.48 666.96,274.49 667.57,274.49 668.18,274.50 668.78,274.51 669.39,274.51 670.00,274.52 670.61,274.52 671.21,274.52 671.82,274.53 672.43,274.53 673.04,274.53 673.64,274.53 674.25,274.54 674.86,274.54 675.46,274.54 676.07,274.54 676.68,274.54 677.29,274.54 677.89,274.55 678.50,274.55 679.11,274.55 679.72,274.55 680.32,274.55 680.93,274.55 681.54,274.55 682.14,274.55 682.75,274.55 683.36,274.55 683.97,274.55 684.57,274.55 685.18,274.55 685.79,274.55 686.40,274.55 687.00,274.55 687.61,274.55 688.22,274.55 688.82,274.55 689.43,274.55 690.04,274.55 690.65,274.55 691.25,274.55 691.86,274.55 692.47,274.55 693.08,274.55 693.68,274.55 694.29,274.55 694.90,274.55 695.50,274.55 696.11,274.55 696.72,274.55 697.33,274.55 697.93,274.55 698.54,274.55 699.15,274.55 699.76,274.55 700.36,274.55 700.97,274.55 701.58,274.55 702.18,274.55 702.79,274.55 703.40,274.55 704.01,274.55 704.61,274.55" fill="none" stroke="#222" stroke-width="1.1"/>
<line x1="583.50" y1="181.55" x2="583.50" y2="189.91" stroke="#222" stroke-width="1"/>
<line x1="581.30" y1="181.55" x2="585.70" y2="181.55" stroke="#222" stroke-width="1"/>
<line x1="581.30" y1="189.91" x2="585.70" y2="189.91" stroke="#222" stroke-width="1"/>
<polygon points="580.80,187.83 586.20,187.83 583.50,183.03" fill="#111"/>
<line x1="597.90" y1="183.12" x2="597.90" y2="189.39" stroke="#222" stroke-width="1"/>
<line x1="595.70" y1="183.12" x2="600.10" y2="183.12" stroke="#222" stroke-width="1"/>
<line x1="595.70" y1="189.39" x2="600.10" y2="189.39" stroke="#222" stroke-width="1"/>
<polygon points="595.20,188.35 600.60,188.35 597.90,183.55" fill="#111"/>
<line x1="611.50" y1="184.16" x2="611.50" y2="193.56" stroke="#222" stroke-width="1"/>
<line x1="609.30" y1="184.16" x2="613.70" y2="184.16" stroke="#222" stroke-width="1"/>
<line x1="609.30" y1="193.56" x2="613.70" y2="193.56" stroke="#222" stroke-width="1"/>
<polygon points="608.80,190.96 614.20,190.96 611.50,186.16" fill="#111"/>
<line x1="624.50" y1="208.72" x2="624.50" y2="214.99" stroke="#222" stroke-width="1"/>
<line x1="622.30" y1="208.72" x2="626.70" y2="208.72" stroke="#222" stroke-width="1"/>
<line x1="622.30" y1="214.99" x2="626.70" y2="214.99" stroke="#222" stroke-width="1"/>
<polygon points="621.80,213.95 627.20,213.95 624.50,209.15" fill="#111"/>
<line x1="637.50" y1="243.73" x2="637.50" y2="262.54" stroke="#222" stroke-width="1"/>
<line x1="635.30" y1="243.73" x2="639.70" y2="243.73" stroke="#222" stroke-width="1"/>
<line x1="635.30" y1="262.54" x2="639.70" y2="262.54" stroke="#222" stroke-width="1"/>
<polygon points="634.80,255.23 640.20,255.23 637.50,250.43" fill="#111"/>
<line x1="651.20" y1="263.58" x2="651.20" y2="271.94" stroke="#222" stroke-width="1"/>
<line x1="649.00" y1="263.58" x2="653.40" y2="263.58" stroke="#222" stroke-width="1"/>
<line x1="649.00" y1="271.94" x2="653.40" y2="271.94" stroke="#222" stroke-width="1"/>
<polygon points="648.50,269.86 653.90,269.86 651.20,265.06" fill="#111"/>
<line x1="664.70" y1="271.42" x2="664.70" y2="276.64" stroke="#222" stroke-width="1"/>
<line x1="662.50" y1="271.42" x2="666.90" y2="271.42" stroke="#222" stroke-width="1"/>
<line x1="662.50" y1="276.64" x2="666.90" y2="276.64" stroke="#222" stroke-width="1"/>
<polygon points="662.00,276.13 667.40,276.13 664.70,271.33" fill="#111"/>
<polygon points="675.30,280.83 680.70,280.83 678.00,276.03" fill="#111"/>
<polygon points="688.60,280.83 694.00,280.83 691.30,276.03" fill="#111"/>
<polygon points="702.00,278.74 707.40,278.74 704.70,273.94" fill="#111"/>
<line x1="706.50" y1="231.60" x2="719.40" y2="231.60" stroke="#222" stroke-width="1.1"/>
<polygon points="710.2,233.8 715.8,233.8 713,229" fill="#111"/>
<text x="724.9" y="235" font-size="9.8" text-anchor="start" fill="#1a1a1a" font-weight="normal" font-style="normal" textLength="35" lengthAdjust="spacingAndGlyphs" stroke="#1a1a1a" stroke-width="0.22" >BAY-856</text>
<text x="724.9" y="247.4" font-size="9.8" text-anchor="start" fill="#1a1a1a" font-weight="normal" font-style="normal" textLength="62.6" lengthAdjust="spacingAndGlyphs" stroke="#1a1a1a" stroke-width="0.22" >IC<tspan font-size="7" dy="2">50</tspan><tspan dy="-2"> = 0.044µM</tspan></text>
<text x="656" y="343.9" font-size="14.6" text-anchor="middle" fill="#828282" font-weight="bold" font-style="normal" textLength="223" lengthAdjust="spacingAndGlyphs" >YAP1/TAZ target gene expression</text>
<line x1="571.00" y1="354.20" x2="571.00" y2="454.20" stroke="#1a1a1a" stroke-width="1.2"/>
<line x1="570.40" y1="453.60" x2="692.00" y2="453.60" stroke="#1a1a1a" stroke-width="1.2"/>
<line x1="567.50" y1="363.80" x2="571.00" y2="363.80" stroke="#1a1a1a" stroke-width="1.1"/>
<line x1="567.50" y1="403.20" x2="571.00" y2="403.20" stroke="#1a1a1a" stroke-width="1.1"/>
<line x1="567.50" y1="442.60" x2="571.00" y2="442.60" stroke="#1a1a1a" stroke-width="1.1"/>
<line x1="569.00" y1="353.95" x2="571.00" y2="353.95" stroke="#1a1a1a" stroke-width="0.8"/>
<line x1="569.00" y1="373.65" x2="571.00" y2="373.65" stroke="#1a1a1a" stroke-width="0.8"/>
<line x1="569.00" y1="383.50" x2="571.00" y2="383.50" stroke="#1a1a1a" stroke-width="0.8"/>
<line x1="569.00" y1="393.35" x2="571.00" y2="393.35" stroke="#1a1a1a" stroke-width="0.8"/>
<line x1="569.00" y1="413.05" x2="571.00" y2="413.05" stroke="#1a1a1a" stroke-width="0.8"/>
<line x1="569.00" y1="422.90" x2="571.00" y2="422.90" stroke="#1a1a1a" stroke-width="0.8"/>
<line x1="569.00" y1="432.75" x2="571.00" y2="432.75" stroke="#1a1a1a" stroke-width="0.8"/>
<line x1="569.00" y1="452.45" x2="571.00" y2="452.45" stroke="#1a1a1a" stroke-width="0.8"/>
<line x1="574.06" y1="453.60" x2="574.06" y2="455.60" stroke="#1a1a1a" stroke-width="0.9"/>
<line x1="577.02" y1="453.60" x2="577.02" y2="455.60" stroke="#1a1a1a" stroke-width="0.9"/>
<line x1="579.43" y1="453.60" x2="579.43" y2="455.60" stroke="#1a1a1a" stroke-width="0.9"/>
<line x1="581.48" y1="453.60" x2="581.48" y2="455.60" stroke="#1a1a1a" stroke-width="0.9"/>
<line x1="583.24" y1="453.60" x2="583.24" y2="455.60" stroke="#1a1a1a" stroke-width="0.9"/>
<line x1="584.80" y1="453.60" x2="584.80" y2="455.60" stroke="#1a1a1a" stroke-width="0.9"/>
<line x1="586.20" y1="453.60" x2="586.20" y2="457.20" stroke="#1a1a1a" stroke-width="0.9"/>
<line x1="595.38" y1="453.60" x2="595.38" y2="455.60" stroke="#1a1a1a" stroke-width="0.9"/>
<line x1="600.75" y1="453.60" x2="600.75" y2="455.60" stroke="#1a1a1a" stroke-width="0.9"/>
<line x1="604.56" y1="453.60" x2="604.56" y2="455.60" stroke="#1a1a1a" stroke-width="0.9"/>
<line x1="607.52" y1="453.60" x2="607.52" y2="455.60" stroke="#1a1a1a" stroke-width="0.9"/>
<line x1="609.93" y1="453.60" x2="609.93" y2="455.60" stroke="#1a1a1a" stroke-width="0.9"/>
<line x1="611.98" y1="453.60" x2="611.98" y2="455.60" stroke="#1a1a1a" stroke-width="0.9"/>
<line x1="613.74" y1="453.60" x2="613.74" y2="455.60" stroke="#1a1a1a" stroke-width="0.9"/>
<line x1="615.30" y1="453.60" x2="615.30" y2="455.60" stroke="#1a1a1a" stroke-width="0.9"/>
<line x1="616.70" y1="453.60" x2="616.70" y2="457.20" stroke="#1a1a1a" stroke-width="0.9"/>
<line x1="625.88" y1="453.60" x2="625.88" y2="455.60" stroke="#1a1a1a" stroke-width="0.9"/>
<line x1="631.25" y1="453.60" x2="631.25" y2="455.60" stroke="#1a1a1a" stroke-width="0.9"/>
<line x1="635.06" y1="453.60" x2="635.06" y2="455.60" stroke="#1a1a1a" stroke-width="0.9"/>
<line x1="638.02" y1="453.60" x2="638.02" y2="455.60" stroke="#1a1a1a" stroke-width="0.9"/>
<line x1="640.43" y1="453.60" x2="640.43" y2="455.60" stroke="#1a1a1a" stroke-width="0.9"/>
<line x1="642.48" y1="453.60" x2="642.48" y2="455.60" stroke="#1a1a1a" stroke-width="0.9"/>
<line x1="644.24" y1="453.60" x2="644.24" y2="455.60" stroke="#1a1a1a" stroke-width="0.9"/>
<line x1="645.80" y1="453.60" x2="645.80" y2="455.60" stroke="#1a1a1a" stroke-width="0.9"/>
<line x1="647.20" y1="453.60" x2="647.20" y2="457.20" stroke="#1a1a1a" stroke-width="0.9"/>
<line x1="656.38" y1="453.60" x2="656.38" y2="455.60" stroke="#1a1a1a" stroke-width="0.9"/>
<line x1="661.75" y1="453.60" x2="661.75" y2="455.60" stroke="#1a1a1a" stroke-width="0.9"/>
<line x1="665.56" y1="453.60" x2="665.56" y2="455.60" stroke="#1a1a1a" stroke-width="0.9"/>
<line x1="668.52" y1="453.60" x2="668.52" y2="455.60" stroke="#1a1a1a" stroke-width="0.9"/>
<line x1="670.93" y1="453.60" x2="670.93" y2="455.60" stroke="#1a1a1a" stroke-width="0.9"/>
<line x1="672.98" y1="453.60" x2="672.98" y2="455.60" stroke="#1a1a1a" stroke-width="0.9"/>
<line x1="674.74" y1="453.60" x2="674.74" y2="455.60" stroke="#1a1a1a" stroke-width="0.9"/>
<line x1="676.30" y1="453.60" x2="676.30" y2="455.60" stroke="#1a1a1a" stroke-width="0.9"/>
<line x1="677.70" y1="453.60" x2="677.70" y2="457.20" stroke="#1a1a1a" stroke-width="0.9"/>
<line x1="686.88" y1="453.60" x2="686.88" y2="455.60" stroke="#1a1a1a" stroke-width="0.9"/>
<text x="567.5" y="366.8" font-size="8.5" text-anchor="end" fill="#1a1a1a" font-weight="normal" font-style="normal" stroke="#1a1a1a" stroke-width="0.22" >0</text>
<text x="567.5" y="406.2" font-size="8.5" text-anchor="end" fill="#1a1a1a" font-weight="normal" font-style="normal" stroke="#1a1a1a" stroke-width="0.22" >-2</text>
<text x="567.5" y="445.6" font-size="8.5" text-anchor="end" fill="#1a1a1a" font-weight="normal" font-style="normal" stroke="#1a1a1a" stroke-width="0.22" >-4</text>
<text x="586.2" y="466.5" font-size="8.4" text-anchor="middle" fill="#1a1a1a" font-weight="normal" font-style="normal" stroke="#1a1a1a" stroke-width="0.22" >0.01</text>
<text x="616.7" y="466.5" font-size="8.4" text-anchor="middle" fill="#1a1a1a" font-weight="normal" font-style="normal" stroke="#1a1a1a" stroke-width="0.22" >0.1</text>
<text x="647.2" y="466.5" font-size="8.4" text-anchor="middle" fill="#1a1a1a" font-weight="normal" font-style="normal" stroke="#1a1a1a" stroke-width="0.22" >1</text>
<text x="677.7" y="466.5" font-size="8.4" text-anchor="middle" fill="#1a1a1a" font-weight="normal" font-style="normal" stroke="#1a1a1a" stroke-width="0.22" >10</text>
<text x="630.8" y="478" font-size="9.4" text-anchor="middle" fill="#1a1a1a" font-weight="normal" font-style="normal" textLength="118.5" lengthAdjust="spacingAndGlyphs" stroke="#1a1a1a" stroke-width="0.22" >BAY-856 concentration [log, µM]</text>
<g transform="translate(543.6,403.2) rotate(-90)">
<text x="0" y="0" font-size="9" text-anchor="middle" fill="#1a1a1a" font-weight="normal" font-style="normal" textLength="99" lengthAdjust="spacingAndGlyphs" stroke="#1a1a1a" stroke-width="0.22" >Relative mRNA fold-change</text>
<text x="0" y="9.6" font-size="9" text-anchor="middle" fill="#1a1a1a" font-weight="normal" font-style="normal" textLength="99" lengthAdjust="spacingAndGlyphs" stroke="#1a1a1a" stroke-width="0.22" >normalized to control (log2)</text>
</g>
<polyline points="586.20,357.89 586.66,357.89 587.12,357.89 587.57,357.89 588.03,357.89 588.49,357.89 588.95,357.89 589.40,357.89 589.86,357.89 590.32,357.89 590.78,357.89 591.23,357.89 591.69,357.89 592.15,357.89 592.61,357.89 593.06,357.89 593.52,357.89 593.98,357.89 594.44,357.89 594.89,357.89 595.35,357.89 595.81,357.89 596.27,357.89 596.72,357.89 597.18,357.89 597.64,357.89 598.10,357.89 598.55,357.89 599.01,357.89 599.47,357.89 599.93,357.89 600.38,357.89 600.84,357.89 601.30,357.89 601.75,357.89 602.21,357.89 602.67,357.89 603.13,357.89 603.59,357.89 604.04,357.90 604.50,357.90 604.96,357.90 605.42,357.90 605.87,357.90 606.33,357.90 606.79,357.90 607.25,357.90 607.70,357.91 608.16,357.91 608.62,357.91 609.08,357.91 609.53,357.92 609.99,357.92 610.45,357.93 610.91,357.93 611.36,357.94 611.82,357.95 612.28,357.95 612.74,357.96 613.19,357.97 613.65,357.99 614.11,358.00 614.57,358.02 615.02,358.03 615.48,358.05 615.94,358.08 616.40,358.10 616.85,358.13 617.31,358.17 617.77,358.20 618.23,358.25 618.68,358.29 619.14,358.35 619.60,358.40 620.06,358.47 620.51,358.54 620.97,358.62 621.43,358.70 621.88,358.80 622.34,358.90 622.80,359.00 623.26,359.12 623.72,359.24 624.17,359.36 624.63,359.49 625.09,359.62 625.55,359.76 626.00,359.90 626.46,360.03 626.92,360.17 627.38,360.30 627.83,360.42 628.29,360.55 628.75,360.66 629.21,360.77 629.66,360.88 630.12,360.97 630.58,361.06 631.04,361.14 631.49,361.22 631.95,361.29 632.41,361.35 632.87,361.40 633.32,361.45 633.78,361.50 634.24,361.54 634.70,361.57 635.15,361.60 635.61,361.63 636.07,361.66 636.53,361.68 636.98,361.70 637.44,361.71 637.90,361.73 638.36,361.74 638.81,361.75 639.27,361.76 639.73,361.77 640.19,361.78 640.64,361.78 641.10,361.79 641.56,361.80 642.02,361.80 642.47,361.80 642.93,361.81 643.39,361.81 643.85,361.81 644.30,361.81 644.76,361.82 645.22,361.82 645.68,361.82 646.13,361.82 646.59,361.82 647.05,361.82 647.50,361.82 647.96,361.82 648.42,361.83 648.88,361.83 649.34,361.83 649.79,361.83 650.25,361.83 650.71,361.83 651.17,361.83 651.62,361.83 652.08,361.83 652.54,361.83 653.00,361.83 653.45,361.83 653.91,361.83 654.37,361.83 654.83,361.83 655.28,361.83 655.74,361.83 656.20,361.83 656.66,361.83 657.11,361.83 657.57,361.83 658.03,361.83 658.49,361.83 658.94,361.83 659.40,361.83 659.86,361.83 660.32,361.83 660.77,361.83 661.23,361.83 661.69,361.83 662.15,361.83 662.60,361.83 663.06,361.83 663.52,361.83 663.98,361.83 664.43,361.83 664.89,361.83 665.35,361.83 665.81,361.83 666.26,361.83 666.72,361.83 667.18,361.83 667.63,361.83 668.09,361.83 668.55,361.83 669.01,361.83 669.47,361.83 669.92,361.83 670.38,361.83 670.84,361.83 671.30,361.83 671.75,361.83 672.21,361.83 672.67,361.83 673.12,361.83 673.58,361.83 674.04,361.83 674.50,361.83 674.96,361.83 675.41,361.83 675.87,361.83 676.33,361.83 676.79,361.83 677.24,361.83 677.70,361.83" fill="none" stroke="#5a5a5a" stroke-width="0.9" opacity="0.7"/>
<polyline points="586.20,369.07 586.66,369.08 587.12,369.10 587.57,369.12 588.03,369.15 588.49,369.17 588.95,369.19 589.40,369.22 589.86,369.25 590.32,369.27 590.78,369.30 591.23,369.33 591.69,369.37 592.15,369.40 592.61,369.44 593.06,369.47 593.52,369.51 593.98,369.56 594.44,369.60 594.89,369.65 595.35,369.69 595.81,369.74 596.27,369.80 596.72,369.85 597.18,369.91 597.64,369.97 598.10,370.03 598.55,370.10 599.01,370.17 599.47,370.24 599.93,370.31 600.38,370.39 600.84,370.47 601.30,370.56 601.75,370.65 602.21,370.74 602.67,370.84 603.13,370.94 603.59,371.04 604.04,371.15 604.50,371.26 604.96,371.38 605.42,371.50 605.87,371.63 606.33,371.76 606.79,371.90 607.25,372.04 607.70,372.19 608.16,372.35 608.62,372.51 609.08,372.68 609.53,372.85 609.99,373.03 610.45,373.22 610.91,373.42 611.36,373.62 611.82,373.83 612.28,374.06 612.74,374.29 613.19,374.53 613.65,374.79 614.11,375.05 614.57,375.33 615.02,375.63 615.48,375.94 615.94,376.26 616.40,376.60 616.85,376.96 617.31,377.34 617.77,377.74 618.23,378.17 618.68,378.61 619.14,379.08 619.60,379.58 620.06,380.10 620.51,380.65 620.97,381.23 621.43,381.84 621.88,382.48 622.34,383.15 622.80,383.85 623.26,384.57 623.72,385.33 624.17,386.11 624.63,386.91 625.09,387.73 625.55,388.56 626.00,389.41 626.46,390.26 626.92,391.12 627.38,391.97 627.83,392.81 628.29,393.64 628.75,394.45 629.21,395.24 629.66,395.99 630.12,396.72 630.58,397.40 631.04,398.06 631.49,398.67 631.95,399.24 632.41,399.76 632.87,400.25 633.32,400.70 633.78,401.11 634.24,401.49 634.70,401.83 635.15,402.13 635.61,402.41 636.07,402.66 636.53,402.88 636.98,403.08 637.44,403.25 637.90,403.41 638.36,403.55 638.81,403.67 639.27,403.78 639.73,403.88 640.19,403.96 640.64,404.04 641.10,404.10 641.56,404.16 642.02,404.21 642.47,404.26 642.93,404.30 643.39,404.33 643.85,404.36 644.30,404.39 644.76,404.41 645.22,404.43 645.68,404.45 646.13,404.46 646.59,404.48 647.05,404.49 647.50,404.50 647.96,404.51 648.42,404.52 648.88,404.53 649.34,404.53 649.79,404.54 650.25,404.54 650.71,404.55 651.17,404.55 651.62,404.55 652.08,404.56 652.54,404.56 653.00,404.56 653.45,404.56 653.91,404.57 654.37,404.57 654.83,404.57 655.28,404.57 655.74,404.57 656.20,404.57 656.66,404.57 657.11,404.57 657.57,404.57 658.03,404.57 658.49,404.58 658.94,404.58 659.40,404.58 659.86,404.58 660.32,404.58 660.77,404.58 661.23,404.58 661.69,404.58 662.15,404.58 662.60,404.58 663.06,404.58 663.52,404.58 663.98,404.58 664.43,404.58 664.89,404.58 665.35,404.58 665.81,404.58 666.26,404.58 666.72,404.58 667.18,404.58 667.63,404.58 668.09,404.58 668.55,404.58 669.01,404.58 669.47,404.58 669.92,404.58 670.38,404.58 670.84,404.58 671.30,404.58 671.75,404.58 672.21,404.58 672.67,404.58 673.12,404.58 673.58,404.58 674.04,404.58 674.50,404.58 674.96,404.58 675.41,404.58 675.87,404.58 676.33,404.58 676.79,404.58 677.24,404.58 677.70,404.58" fill="none" stroke="#a21fc2" stroke-width="0.9" opacity="0.7"/>
<polyline points="586.20,363.01 586.66,363.07 587.12,363.12 587.57,363.18 588.03,363.25 588.49,363.31 588.95,363.38 589.40,363.45 589.86,363.53 590.32,363.60 590.78,363.68 591.23,363.77 591.69,363.85 592.15,363.94 592.61,364.04 593.06,364.14 593.52,364.24 593.98,364.34 594.44,364.45 594.89,364.57 595.35,364.69 595.81,364.81 596.27,364.93 596.72,365.07 597.18,365.20 597.64,365.34 598.10,365.49 598.55,365.64 599.01,365.80 599.47,365.96 599.93,366.12 600.38,366.29 600.84,366.47 601.30,366.66 601.75,366.84 602.21,367.04 602.67,367.24 603.13,367.45 603.59,367.66 604.04,367.88 604.50,368.11 604.96,368.34 605.42,368.59 605.87,368.84 606.33,369.09 606.79,369.36 607.25,369.64 607.70,369.92 608.16,370.21 608.62,370.52 609.08,370.83 609.53,371.16 609.99,371.50 610.45,371.85 610.91,372.22 611.36,372.60 611.82,373.00 612.28,373.42 612.74,373.85 613.19,374.31 613.65,374.79 614.11,375.29 614.57,375.81 615.02,376.37 615.48,376.95 615.94,377.56 616.40,378.21 616.85,378.89 617.31,379.60 617.77,380.35 618.23,381.15 618.68,381.98 619.14,382.85 619.60,383.77 620.06,384.72 620.51,385.72 620.97,386.76 621.43,387.84 621.88,388.95 622.34,390.09 622.80,391.27 623.26,392.47 623.72,393.69 624.17,394.92 624.63,396.15 625.09,397.39 625.55,398.61 626.00,399.82 626.46,401.01 626.92,402.17 627.38,403.29 627.83,404.37 628.29,405.40 628.75,406.38 629.21,407.31 629.66,408.19 630.12,409.00 630.58,409.77 631.04,410.47 631.49,411.12 631.95,411.71 632.41,412.26 632.87,412.76 633.32,413.21 633.78,413.61 634.24,413.98 634.70,414.31 635.15,414.61 635.61,414.87 636.07,415.11 636.53,415.32 636.98,415.51 637.44,415.68 637.90,415.83 638.36,415.96 638.81,416.08 639.27,416.19 639.73,416.28 640.19,416.36 640.64,416.43 641.10,416.50 641.56,416.56 642.02,416.61 642.47,416.65 642.93,416.69 643.39,416.72 643.85,416.75 644.30,416.78 644.76,416.81 645.22,416.83 645.68,416.85 646.13,416.86 646.59,416.88 647.05,416.89 647.50,416.90 647.96,416.91 648.42,416.92 648.88,416.93 649.34,416.94 649.79,416.94 650.25,416.95 650.71,416.95 651.17,416.96 651.62,416.96 652.08,416.96 652.54,416.97 653.00,416.97 653.45,416.97 653.91,416.97 654.37,416.98 654.83,416.98 655.28,416.98 655.74,416.98 656.20,416.98 656.66,416.98 657.11,416.98 657.57,416.98 658.03,416.98 658.49,416.99 658.94,416.99 659.40,416.99 659.86,416.99 660.32,416.99 660.77,416.99 661.23,416.99 661.69,416.99 662.15,416.99 662.60,416.99 663.06,416.99 663.52,416.99 663.98,416.99 664.43,416.99 664.89,416.99 665.35,416.99 665.81,416.99 666.26,416.99 666.72,416.99 667.18,416.99 667.63,416.99 668.09,416.99 668.55,416.99 669.01,416.99 669.47,416.99 669.92,416.99 670.38,416.99 670.84,416.99 671.30,416.99 671.75,416.99 672.21,416.99 672.67,416.99 673.12,416.99 673.58,416.99 674.04,416.99 674.50,416.99 674.96,416.99 675.41,416.99 675.87,416.99 676.33,416.99 676.79,416.99 677.24,416.99 677.70,416.99" fill="none" stroke="#2b7d8d" stroke-width="0.9" opacity="0.7"/>
<polyline points="586.20,364.91 586.66,365.00 587.12,365.08 587.57,365.17 588.03,365.26 588.49,365.36 588.95,365.46 589.40,365.56 589.86,365.67 590.32,365.78 590.78,365.89 591.23,366.01 591.69,366.13 592.15,366.25 592.61,366.38 593.06,366.51 593.52,366.65 593.98,366.79 594.44,366.94 594.89,367.09 595.35,367.25 595.81,367.40 596.27,367.57 596.72,367.74 597.18,367.91 597.64,368.09 598.10,368.27 598.55,368.46 599.01,368.66 599.47,368.85 599.93,369.06 600.38,369.27 600.84,369.48 601.30,369.70 601.75,369.92 602.21,370.15 602.67,370.39 603.13,370.63 603.59,370.87 604.04,371.13 604.50,371.38 604.96,371.65 605.42,371.92 605.87,372.19 606.33,372.48 606.79,372.76 607.25,373.06 607.70,373.36 608.16,373.67 608.62,373.99 609.08,374.32 609.53,374.66 609.99,375.00 610.45,375.36 610.91,375.73 611.36,376.11 611.82,376.50 612.28,376.90 612.74,377.32 613.19,377.76 613.65,378.21 614.11,378.69 614.57,379.18 615.02,379.69 615.48,380.23 615.94,380.80 616.40,381.39 616.85,382.01 617.31,382.66 617.77,383.35 618.23,384.07 618.68,384.83 619.14,385.63 619.60,386.47 620.06,387.36 620.51,388.29 620.97,389.26 621.43,390.28 621.88,391.35 622.34,392.46 622.80,393.62 623.26,394.83 623.72,396.07 624.17,397.35 624.63,398.67 625.09,400.01 625.55,401.38 626.00,402.77 626.46,404.16 626.92,405.56 627.38,406.96 627.83,408.34 628.29,409.70 628.75,411.03 629.21,412.33 629.66,413.59 630.12,414.80 630.58,415.95 631.04,417.05 631.49,418.10 631.95,419.08 632.41,420.00 632.87,420.86 633.32,421.65 633.78,422.39 634.24,423.07 634.70,423.69 635.15,424.26 635.61,424.78 636.07,425.25 636.53,425.68 636.98,426.07 637.44,426.42 637.90,426.74 638.36,427.02 638.81,427.28 639.27,427.50 639.73,427.71 640.19,427.89 640.64,428.06 641.10,428.20 641.56,428.33 642.02,428.45 642.47,428.55 642.93,428.65 643.39,428.73 643.85,428.80 644.30,428.87 644.76,428.93 645.22,428.98 645.68,429.02 646.13,429.06 646.59,429.10 647.05,429.13 647.50,429.16 647.96,429.19 648.42,429.21 648.88,429.23 649.34,429.25 649.79,429.27 650.25,429.28 650.71,429.29 651.17,429.31 651.62,429.32 652.08,429.33 652.54,429.33 653.00,429.34 653.45,429.35 653.91,429.35 654.37,429.36 654.83,429.36 655.28,429.37 655.74,429.37 656.20,429.37 656.66,429.38 657.11,429.38 657.57,429.38 658.03,429.38 658.49,429.39 658.94,429.39 659.40,429.39 659.86,429.39 660.32,429.39 660.77,429.39 661.23,429.39 661.69,429.39 662.15,429.39 662.60,429.40 663.06,429.40 663.52,429.40 663.98,429.40 664.43,429.40 664.89,429.40 665.35,429.40 665.81,429.40 666.26,429.40 666.72,429.40 667.18,429.40 667.63,429.40 668.09,429.40 668.55,429.40 669.01,429.40 669.47,429.40 669.92,429.40 670.38,429.40 670.84,429.40 671.30,429.40 671.75,429.40 672.21,429.40 672.67,429.40 673.12,429.40 673.58,429.40 674.04,429.40 674.50,429.40 674.96,429.40 675.41,429.40 675.87,429.40 676.33,429.40 676.79,429.40 677.24,429.40 677.70,429.40" fill="none" stroke="#1a1f8a" stroke-width="0.9" opacity="0.7"/>
<polyline points="586.20,360.48 586.66,360.51 587.12,360.55 587.57,360.59 588.03,360.63 588.49,360.68 588.95,360.73 589.40,360.78 589.86,360.83 590.32,360.88 590.78,360.94 591.23,361.00 591.69,361.07 592.15,361.14 592.61,361.21 593.06,361.29 593.52,361.37 593.98,361.45 594.44,361.54 594.89,361.63 595.35,361.73 595.81,361.83 596.27,361.94 596.72,362.05 597.18,362.17 597.64,362.29 598.10,362.43 598.55,362.56 599.01,362.71 599.47,362.86 599.93,363.01 600.38,363.18 600.84,363.35 601.30,363.53 601.75,363.72 602.21,363.92 602.67,364.12 603.13,364.34 603.59,364.56 604.04,364.80 604.50,365.04 604.96,365.29 605.42,365.56 605.87,365.84 606.33,366.13 606.79,366.43 607.25,366.75 607.70,367.08 608.16,367.42 608.62,367.78 609.08,368.16 609.53,368.55 609.99,368.96 610.45,369.39 610.91,369.85 611.36,370.32 611.82,370.82 612.28,371.34 612.74,371.88 613.19,372.46 613.65,373.07 614.11,373.71 614.57,374.38 615.02,375.09 615.48,375.84 615.94,376.64 616.40,377.47 616.85,378.36 617.31,379.30 617.77,380.29 618.23,381.33 618.68,382.43 619.14,383.59 619.60,384.82 620.06,386.10 620.51,387.45 620.97,388.86 621.43,390.33 621.88,391.85 622.34,393.43 622.80,395.06 623.26,396.73 623.72,398.44 624.17,400.17 624.63,401.92 625.09,403.68 625.55,405.43 626.00,407.16 626.46,408.87 626.92,410.53 627.38,412.15 627.83,413.71 628.29,415.20 628.75,416.62 629.21,417.96 629.66,419.22 630.12,420.39 630.58,421.48 631.04,422.49 631.49,423.41 631.95,424.25 632.41,425.01 632.87,425.70 633.32,426.32 633.78,426.88 634.24,427.38 634.70,427.83 635.15,428.23 635.61,428.58 636.07,428.90 636.53,429.17 636.98,429.42 637.44,429.63 637.90,429.82 638.36,429.99 638.81,430.14 639.27,430.27 639.73,430.38 640.19,430.48 640.64,430.57 641.10,430.64 641.56,430.71 642.02,430.77 642.47,430.82 642.93,430.86 643.39,430.90 643.85,430.94 644.30,430.97 644.76,430.99 645.22,431.01 645.68,431.03 646.13,431.05 646.59,431.07 647.05,431.08 647.50,431.09 647.96,431.10 648.42,431.11 648.88,431.12 649.34,431.13 649.79,431.13 650.25,431.14 650.71,431.14 651.17,431.15 651.62,431.15 652.08,431.15 652.54,431.15 653.00,431.16 653.45,431.16 653.91,431.16 654.37,431.16 654.83,431.16 655.28,431.17 655.74,431.17 656.20,431.17 656.66,431.17 657.11,431.17 657.57,431.17 658.03,431.17 658.49,431.17 658.94,431.17 659.40,431.17 659.86,431.17 660.32,431.17 660.77,431.17 661.23,431.17 661.69,431.17 662.15,431.17 662.60,431.17 663.06,431.17 663.52,431.17 663.98,431.17 664.43,431.17 664.89,431.17 665.35,431.17 665.81,431.17 666.26,431.17 666.72,431.17 667.18,431.17 667.63,431.17 668.09,431.17 668.55,431.17 669.01,431.17 669.47,431.17 669.92,431.17 670.38,431.17 670.84,431.17 671.30,431.17 671.75,431.17 672.21,431.17 672.67,431.17 673.12,431.17 673.58,431.17 674.04,431.17 674.50,431.17 674.96,431.17 675.41,431.17 675.87,431.17 676.33,431.17 676.79,431.17 677.24,431.17 677.70,431.17" fill="none" stroke="#6fa6dc" stroke-width="0.9" opacity="0.7"/>
<polyline points="586.20,360.26 586.66,360.31 587.12,360.35 587.57,360.40 588.03,360.45 588.49,360.51 588.95,360.57 589.40,360.62 589.86,360.69 590.32,360.75 590.78,360.82 591.23,360.90 591.69,360.97 592.15,361.05 592.61,361.14 593.06,361.23 593.52,361.32 593.98,361.42 594.44,361.52 594.89,361.63 595.35,361.74 595.81,361.86 596.27,361.98 596.72,362.11 597.18,362.24 597.64,362.39 598.10,362.53 598.55,362.69 599.01,362.85 599.47,363.02 599.93,363.19 600.38,363.38 600.84,363.57 601.30,363.77 601.75,363.98 602.21,364.20 602.67,364.42 603.13,364.66 603.59,364.90 604.04,365.16 604.50,365.42 604.96,365.70 605.42,365.99 605.87,366.29 606.33,366.60 606.79,366.92 607.25,367.25 607.70,367.60 608.16,367.97 608.62,368.34 609.08,368.74 609.53,369.14 609.99,369.57 610.45,370.01 610.91,370.47 611.36,370.95 611.82,371.45 612.28,371.97 612.74,372.52 613.19,373.09 613.65,373.69 614.11,374.31 614.57,374.97 615.02,375.66 615.48,376.39 615.94,377.15 616.40,377.95 616.85,378.79 617.31,379.68 617.77,380.62 618.23,381.61 618.68,382.66 619.14,383.76 619.60,384.93 620.06,386.16 620.51,387.45 620.97,388.81 621.43,390.24 621.88,391.74 622.34,393.31 622.80,394.95 623.26,396.65 623.72,398.42 624.17,400.24 624.63,402.12 625.09,404.05 625.55,406.01 626.00,408.00 626.46,410.00 626.92,412.01 627.38,414.01 627.83,415.98 628.29,417.93 628.75,419.83 629.21,421.67 629.66,423.44 630.12,425.14 630.58,426.75 631.04,428.28 631.49,429.71 631.95,431.05 632.41,432.29 632.87,433.44 633.32,434.49 633.78,435.45 634.24,436.33 634.70,437.13 635.15,437.85 635.61,438.49 636.07,439.07 636.53,439.60 636.98,440.06 637.44,440.47 637.90,440.84 638.36,441.17 638.81,441.46 639.27,441.71 639.73,441.94 640.19,442.14 640.64,442.31 641.10,442.47 641.56,442.60 642.02,442.72 642.47,442.83 642.93,442.92 643.39,443.00 643.85,443.07 644.30,443.13 644.76,443.19 645.22,443.24 645.68,443.28 646.13,443.32 646.59,443.35 647.05,443.38 647.50,443.40 647.96,443.43 648.42,443.44 648.88,443.46 649.34,443.48 649.79,443.49 650.25,443.50 650.71,443.51 651.17,443.52 651.62,443.53 652.08,443.53 652.54,443.54 653.00,443.55 653.45,443.55 653.91,443.55 654.37,443.56 654.83,443.56 655.28,443.56 655.74,443.57 656.20,443.57 656.66,443.57 657.11,443.57 657.57,443.57 658.03,443.58 658.49,443.58 658.94,443.58 659.40,443.58 659.86,443.58 660.32,443.58 660.77,443.58 661.23,443.58 661.69,443.58 662.15,443.58 662.60,443.58 663.06,443.58 663.52,443.58 663.98,443.58 664.43,443.58 664.89,443.58 665.35,443.58 665.81,443.58 666.26,443.58 666.72,443.58 667.18,443.58 667.63,443.58 668.09,443.58 668.55,443.58 669.01,443.58 669.47,443.58 669.92,443.58 670.38,443.58 670.84,443.58 671.30,443.58 671.75,443.58 672.21,443.58 672.67,443.58 673.12,443.58 673.58,443.58 674.04,443.58 674.50,443.58 674.96,443.58 675.41,443.58 675.87,443.58 676.33,443.58 676.79,443.58 677.24,443.58 677.70,443.58" fill="none" stroke="#9c9ce0" stroke-width="0.9" opacity="0.7"/>
<rect x="583.90" y="355.59" width="4.6" height="4.6" fill="#5a5a5a"/>
<rect x="598.45" y="355.59" width="4.6" height="4.6" fill="#5a5a5a"/>
<rect x="614.40" y="356.57" width="4.6" height="4.6" fill="#5a5a5a"/>
<rect x="628.95" y="359.53" width="4.6" height="4.6" fill="#5a5a5a"/>
<rect x="644.90" y="361.50" width="4.6" height="4.6" fill="#5a5a5a"/>
<rect x="659.45" y="359.53" width="4.6" height="4.6" fill="#5a5a5a"/>
<rect x="675.40" y="356.57" width="4.6" height="4.6" fill="#5a5a5a"/>
<rect x="583.50" y="367.01" width="5.4" height="5.4" fill="#a21fc2"/>
<rect x="598.05" y="366.03" width="5.4" height="5.4" fill="#a21fc2"/>
<rect x="614.00" y="372.92" width="5.4" height="5.4" fill="#a21fc2"/>
<rect x="628.55" y="395.77" width="5.4" height="5.4" fill="#a21fc2"/>
<rect x="644.50" y="401.88" width="5.4" height="5.4" fill="#a21fc2"/>
<rect x="659.05" y="401.88" width="5.4" height="5.4" fill="#a21fc2"/>
<rect x="675.00" y="401.88" width="5.4" height="5.4" fill="#a21fc2"/>
<polygon points="583.20,359.53 589.20,359.53 586.20,364.73" fill="#2b7d8d"/>
<polygon points="597.75,360.51 603.75,360.51 600.75,365.71" fill="#2b7d8d"/>
<polygon points="613.70,376.27 619.70,376.27 616.70,381.47" fill="#2b7d8d"/>
<polygon points="628.25,407.60 634.25,407.60 631.25,412.80" fill="#2b7d8d"/>
<polygon points="644.20,414.69 650.20,414.69 647.20,419.89" fill="#2b7d8d"/>
<polygon points="658.75,414.69 664.75,414.69 661.75,419.89" fill="#2b7d8d"/>
<polygon points="674.70,414.69 680.70,414.69 677.70,419.89" fill="#2b7d8d"/>
<circle cx="586.20" cy="362.81" r="2.5" fill="#1a1f8a"/>
<circle cx="600.75" cy="365.77" r="2.5" fill="#1a1f8a"/>
<circle cx="616.70" cy="380.55" r="2.5" fill="#1a1f8a"/>
<circle cx="631.25" cy="414.23" r="2.5" fill="#1a1f8a"/>
<circle cx="647.20" cy="428.81" r="2.5" fill="#1a1f8a"/>
<circle cx="661.75" cy="428.81" r="2.5" fill="#1a1f8a"/>
<circle cx="677.70" cy="432.16" r="2.5" fill="#1a1f8a"/>
<rect x="583.90" y="357.56" width="4.6" height="4.6" fill="#6fa6dc"/>
<rect x="598.45" y="358.55" width="4.6" height="4.6" fill="#6fa6dc"/>
<rect x="614.40" y="372.33" width="4.6" height="4.6" fill="#6fa6dc"/>
<rect x="628.95" y="420.01" width="4.6" height="4.6" fill="#6fa6dc"/>
<rect x="644.90" y="429.46" width="4.6" height="4.6" fill="#6fa6dc"/>
<rect x="659.45" y="428.87" width="4.6" height="4.6" fill="#6fa6dc"/>
<rect x="675.40" y="428.48" width="4.6" height="4.6" fill="#6fa6dc"/>
<polygon points="583.60,360.88 588.80,360.88 586.20,356.38" fill="#9c9ce0"/>
<polygon points="598.15,361.86 603.35,361.86 600.75,357.36" fill="#9c9ce0"/>
<polygon points="614.10,375.65 619.30,375.65 616.70,371.15" fill="#9c9ce0"/>
<polygon points="628.65,428.64 633.85,428.64 631.25,424.14" fill="#9c9ce0"/>
<polygon points="644.60,446.18 649.80,446.18 647.20,441.68" fill="#9c9ce0"/>
<polygon points="659.15,444.21 664.35,444.21 661.75,439.71" fill="#9c9ce0"/>
<polygon points="675.10,445.78 680.30,445.78 677.70,441.28" fill="#9c9ce0"/>
<line x1="696.00" y1="379.10" x2="709.00" y2="379.10" stroke="#5a5a5a" stroke-width="1"/>
<rect x="700.10" y="376.80" width="4.6" height="4.6" fill="#5a5a5a"/>
<text x="714" y="381.70000000000005" font-size="7.3" text-anchor="start" fill="#1a1a1a" font-weight="normal" font-style="normal" textLength="67.8" lengthAdjust="spacingAndGlyphs" stroke="#1a1a1a" stroke-width="0.1" ><tspan font-style="italic">ACTB</tspan> (IC<tspan font-size="5.5" dy="1.5">50</tspan><tspan dy="-1.5"> = &gt;10 µM)</tspan></text>
<line x1="696.00" y1="391.10" x2="709.00" y2="391.10" stroke="#a21fc2" stroke-width="1"/>
<rect x="699.70" y="388.40" width="5.4" height="5.4" fill="#a21fc2"/>
<text x="714" y="393.70000000000005" font-size="7.3" text-anchor="start" fill="#1a1a1a" font-weight="normal" font-style="normal" textLength="67.2" lengthAdjust="spacingAndGlyphs" stroke="#1a1a1a" stroke-width="0.1" ><tspan font-style="italic">CDC6</tspan> (IC<tspan font-size="5.5" dy="1.5">50</tspan><tspan dy="-1.5"> = 0.17 µM)</tspan></text>
<line x1="696.00" y1="403.10" x2="709.00" y2="403.10" stroke="#2b7d8d" stroke-width="1"/>
<polygon points="699.40,400.90 705.40,400.90 702.40,405.90" fill="#2b7d8d"/>
<text x="714" y="405.70000000000005" font-size="7.3" text-anchor="start" fill="#1a1a1a" font-weight="normal" font-style="normal" textLength="66.5" lengthAdjust="spacingAndGlyphs" stroke="#1a1a1a" stroke-width="0.1" ><tspan font-style="italic">DKK1</tspan> (IC<tspan font-size="5.5" dy="1.5">50</tspan><tspan dy="-1.5"> = 0.14 µM)</tspan></text>
<line x1="696.00" y1="415.10" x2="709.00" y2="415.10" stroke="#1a1f8a" stroke-width="1"/>
<circle cx="702.40" cy="415.10" r="2.3" fill="#1a1f8a"/>
<text x="714" y="417.70000000000005" font-size="7.3" text-anchor="start" fill="#1a1a1a" font-weight="normal" font-style="normal" textLength="78.5" lengthAdjust="spacingAndGlyphs" stroke="#1a1a1a" stroke-width="0.1" ><tspan font-style="italic">ANKRD1</tspan> (IC<tspan font-size="5.5" dy="1.5">50</tspan><tspan dy="-1.5"> = 0.09 µM)</tspan></text>
<line x1="696.00" y1="427.10" x2="709.00" y2="427.10" stroke="#6fa6dc" stroke-width="1"/>
<rect x="700.10" y="424.80" width="4.6" height="4.6" fill="#6fa6dc"/>
<text x="714" y="429.70000000000005" font-size="7.3" text-anchor="start" fill="#1a1a1a" font-weight="normal" font-style="normal" textLength="67.5" lengthAdjust="spacingAndGlyphs" stroke="#1a1a1a" stroke-width="0.1" ><tspan font-style="italic">CTGF</tspan> (IC<tspan font-size="5.5" dy="1.5">50</tspan><tspan dy="-1.5"> = 0.11 µM)</tspan></text>
<line x1="696.00" y1="439.10" x2="709.00" y2="439.10" stroke="#9c9ce0" stroke-width="1"/>
<polygon points="699.80,441.10 705.00,441.10 702.40,436.60" fill="#9c9ce0"/>
<text x="714" y="441.70000000000005" font-size="7.3" text-anchor="start" fill="#1a1a1a" font-weight="normal" font-style="normal" textLength="67.5" lengthAdjust="spacingAndGlyphs" stroke="#1a1a1a" stroke-width="0.1" ><tspan font-style="italic">CYR61</tspan> (IC<tspan font-size="5.5" dy="1.5">50</tspan><tspan dy="-1.5"> = 0.13 µM)</tspan></text>
</svg>
</body></html>
